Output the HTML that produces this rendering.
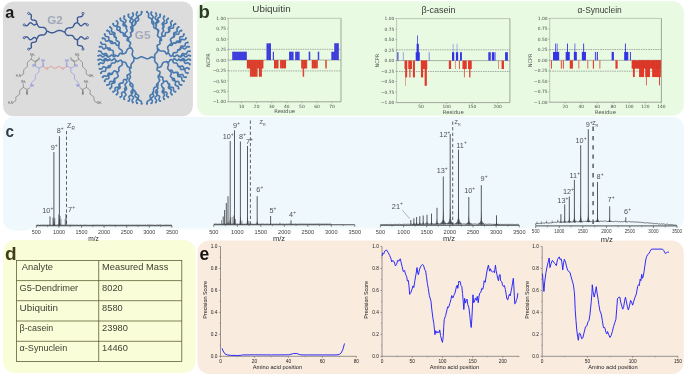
<!DOCTYPE html>
<html lang="en"><head><meta charset="utf-8"><title>Figure</title>
<style>
html,body{margin:0;padding:0;background:#fff;}
body{width:685px;height:376px;overflow:hidden;}
svg{display:block;font-family:"Liberation Sans", sans-serif;}
</style></head><body>
<svg width="685" height="376" viewBox="0 0 685 376">
<rect x="3" y="1.5" width="189.9" height="114.8" rx="10.5" fill="#dcdcdc"/>
<rect x="197.1" y="1.2" width="486.7" height="114.5" rx="11" fill="#e8fae2"/>
<rect x="2.9" y="117" width="680.9" height="113.4" rx="11.3" fill="#eff8fc"/>
<rect x="3" y="239.9" width="192.7" height="133.2" rx="12" fill="#f9fdd8"/>
<rect x="197.4" y="240.4" width="486.4" height="133.5" rx="12" fill="#faebdf"/>
<text x="5.3" y="17.55" font-size="16.2" font-weight="bold" fill="#1a1a1a">a</text>
<text x="198.4" y="18" font-size="18.5" font-weight="bold" fill="#2d3a24">b</text>
<text x="5.4" y="136.5" font-size="17.3" font-weight="bold" fill="#343c42" textLength="8.5" lengthAdjust="spacingAndGlyphs">c</text>
<text x="4.9" y="260.2" font-size="19" font-weight="bold" fill="#3e3e18">d</text>
<text x="199.5" y="259.7" font-size="17.5" font-weight="bold" fill="#151210">e</text>
<path d="M47 31.2 L47.73 31.38 L48.45 31.67 L49.17 32 L49.89 32.31 L50.61 32.57 L51.34 32.74 L52.07 32.81 L52.81 32.75 L53.55 32.59 L54.3 32.32 L55.05 31.98 L55.8 31.6 L56.55 31.22 L57.3 30.88 L58.05 30.61 L58.79 30.45 L59.53 30.39 L60.26 30.46 L60.99 30.63 L61.71 30.89 L62.43 31.2 L63.15 31.53 L63.87 31.82 L64.6 32 M47 31.2 L46.66 30.77 L46.38 30.26 L46.12 29.72 L45.85 29.2 L45.55 28.71 L45.2 28.29 L44.8 27.95 L44.32 27.7 L43.78 27.53 L43.19 27.44 L42.56 27.41 L41.9 27.4 L41.24 27.39 L40.61 27.36 L40.02 27.27 L39.48 27.1 L39 26.85 L38.6 26.51 L38.25 26.09 L37.95 25.6 L37.68 25.08 L37.42 24.54 L37.14 24.03 L36.8 23.6 M47 31.2 L46.66 31.63 L46.38 32.14 L46.12 32.68 L45.85 33.2 L45.55 33.69 L45.2 34.11 L44.8 34.45 L44.32 34.7 L43.78 34.87 L43.19 34.96 L42.56 34.99 L41.9 35 L41.24 35.01 L40.61 35.04 L40.02 35.13 L39.48 35.3 L39 35.55 L38.6 35.89 L38.25 36.31 L37.95 36.8 L37.68 37.32 L37.42 37.86 L37.14 38.37 L36.8 38.8 M36.8 23.6 L36.62 23.05 L36.54 22.41 L36.44 21.79 L36.26 21.24 L35.93 20.8 L35.45 20.49 L34.81 20.3 L34.07 20.2 L33.29 20.12 L32.57 20 L31.97 19.79 L31.53 19.44 L31.28 18.94 L31.2 18.3 L31.24 17.57 L31.33 16.8 L31.39 16.05 L31.35 15.39 L31.15 14.85 L30.79 14.44 L30.29 14.14 L29.7 13.91 L29.1 13.7 L28.6 13.4 M36.8 23.6 L36.3 23.86 L35.81 24.25 L35.31 24.62 L34.81 24.87 L34.29 24.95 L33.74 24.81 L33.18 24.49 L32.6 24.03 L32.02 23.54 L31.44 23.1 L30.88 22.82 L30.35 22.76 L29.83 22.93 L29.34 23.32 L28.87 23.86 L28.4 24.47 L27.93 25.03 L27.44 25.46 L26.94 25.7 L26.41 25.74 L25.86 25.59 L25.31 25.33 L24.75 25.05 L24.2 24.9 M36.8 38.8 L36.29 38.55 L35.8 38.17 L35.3 37.81 L34.79 37.56 L34.27 37.49 L33.73 37.64 L33.17 37.97 L32.6 38.43 L32.03 38.94 L31.46 39.38 L30.9 39.67 L30.37 39.74 L29.85 39.58 L29.36 39.2 L28.88 38.66 L28.4 38.07 L27.92 37.51 L27.43 37.09 L26.92 36.85 L26.39 36.83 L25.85 36.98 L25.3 37.25 L24.74 37.54 L24.2 37.7 M36.8 38.8 L36.62 39.36 L36.54 40 L36.45 40.63 L36.27 41.19 L35.94 41.64 L35.45 41.95 L34.81 42.15 L34.07 42.27 L33.29 42.36 L32.56 42.49 L31.96 42.71 L31.52 43.07 L31.27 43.58 L31.2 44.22 L31.24 44.96 L31.33 45.73 L31.39 46.48 L31.35 47.15 L31.16 47.7 L30.8 48.12 L30.3 48.43 L29.71 48.67 L29.1 48.9 L28.6 49.2 M64.6 32 L64.94 31.54 L65.21 31.01 L65.46 30.44 L65.72 29.89 L66.01 29.38 L66.35 28.93 L66.75 28.55 L67.23 28.27 L67.78 28.06 L68.38 27.93 L69.03 27.85 L69.7 27.8 L70.37 27.75 L71.02 27.67 L71.62 27.54 L72.17 27.33 L72.65 27.05 L73.05 26.67 L73.39 26.22 L73.68 25.71 L73.94 25.16 L74.19 24.59 L74.46 24.06 L74.8 23.6 M64.6 32 L64.95 32.4 L65.24 32.88 L65.51 33.4 L65.79 33.9 L66.1 34.36 L66.45 34.75 L66.86 35.06 L67.33 35.27 L67.86 35.4 L68.44 35.45 L69.06 35.44 L69.7 35.4 L70.34 35.36 L70.96 35.35 L71.54 35.4 L72.07 35.53 L72.54 35.74 L72.95 36.05 L73.3 36.44 L73.61 36.9 L73.89 37.4 L74.16 37.92 L74.45 38.4 L74.8 38.8 M74.8 23.6 L75.3 23.3 L75.9 23.09 L76.49 22.86 L76.99 22.56 L77.35 22.15 L77.55 21.61 L77.59 20.95 L77.53 20.2 L77.44 19.43 L77.4 18.7 L77.48 18.06 L77.73 17.56 L78.17 17.21 L78.77 17 L79.49 16.88 L80.27 16.8 L81.01 16.7 L81.65 16.51 L82.13 16.2 L82.46 15.76 L82.64 15.21 L82.74 14.59 L82.82 13.95 L83 13.4 M74.8 23.6 L75.35 23.45 L75.91 23.17 L76.46 22.91 L77.01 22.76 L77.54 22.8 L78.04 23.04 L78.53 23.47 L79 24.03 L79.47 24.64 L79.94 25.18 L80.43 25.57 L80.95 25.74 L81.48 25.68 L82.04 25.4 L82.62 24.96 L83.2 24.47 L83.78 24.01 L84.34 23.69 L84.89 23.55 L85.41 23.63 L85.91 23.88 L86.41 24.25 L86.9 24.64 L87.4 24.9 M74.8 38.8 L75.34 38.96 L75.9 39.25 L76.45 39.52 L76.99 39.67 L77.52 39.65 L78.03 39.41 L78.52 38.99 L79 38.43 L79.48 37.84 L79.96 37.3 L80.45 36.92 L80.97 36.76 L81.5 36.83 L82.06 37.12 L82.63 37.56 L83.2 38.07 L83.77 38.53 L84.33 38.86 L84.87 39.01 L85.39 38.94 L85.9 38.69 L86.4 38.33 L86.89 37.95 L87.4 37.7 M74.8 38.8 L75.3 39.1 L75.91 39.33 L76.5 39.57 L77 39.88 L77.36 40.3 L77.55 40.85 L77.59 41.52 L77.53 42.27 L77.44 43.04 L77.4 43.78 L77.47 44.42 L77.72 44.93 L78.16 45.29 L78.76 45.51 L79.49 45.64 L80.27 45.73 L81.01 45.85 L81.65 46.05 L82.14 46.36 L82.47 46.81 L82.65 47.37 L82.74 48 L82.82 48.64 L83 49.2" fill="none" stroke="#3c5a96" stroke-width="1.4" stroke-linecap="round" stroke-linejoin="round"/>
<circle cx="28.6" cy="13.4" r="1.05" fill="#dcdcdc" stroke="#3c5a96" stroke-width="0.85"/>
<circle cx="24.2" cy="24.9" r="1.05" fill="#dcdcdc" stroke="#3c5a96" stroke-width="0.85"/>
<circle cx="24.2" cy="37.7" r="1.05" fill="#dcdcdc" stroke="#3c5a96" stroke-width="0.85"/>
<circle cx="28.6" cy="49.2" r="1.05" fill="#dcdcdc" stroke="#3c5a96" stroke-width="0.85"/>
<circle cx="83" cy="13.4" r="1.05" fill="#dcdcdc" stroke="#3c5a96" stroke-width="0.85"/>
<circle cx="87.4" cy="24.9" r="1.05" fill="#dcdcdc" stroke="#3c5a96" stroke-width="0.85"/>
<circle cx="87.4" cy="37.7" r="1.05" fill="#dcdcdc" stroke="#3c5a96" stroke-width="0.85"/>
<circle cx="83" cy="49.2" r="1.05" fill="#dcdcdc" stroke="#3c5a96" stroke-width="0.85"/>
<text x="47.2" y="24.2" font-size="11.5" font-weight="bold" fill="#9ea8ba" textLength="15.6" lengthAdjust="spacingAndGlyphs">G2</text>
<path d="M32.11 55.99 L31 59.18 L27.33 62.37 L27.33 66.67 L23.66 69.86 L23.66 74.01 L20.47 75.92 M77.73 55.99 L78.84 59.18 L82.51 62.37 L82.51 66.67 L86.18 69.86 L86.18 74.01 L89.37 75.92 M31 59.18 L35.3 61.89 L38.65 59.97 M78.84 59.18 L74.54 61.89 L71.19 59.97 M34.98 61.25 L38.33 59.34 M74.86 61.25 L71.51 59.34 M35.3 61.89 L34.98 65.56 M74.54 61.89 L74.86 65.56 M27.33 89.48 L27.33 94.26 M82.51 89.48 L82.51 94.26 M26.69 89.8 L26.69 94.26 M83.15 89.8 L83.15 94.26 M30.2 87.41 L27.33 89.48 L23.34 87.41 L23.34 83.58 M79.64 87.41 L82.51 89.48 L86.5 87.41 L86.5 83.58 M23.34 87.41 L19.67 90.28 L19.67 94.26 L15.85 96.98 L15.85 100.64 L12.5 103.04 M86.5 87.41 L90.17 90.28 L90.17 94.26 L94 96.98 L94 100.64 L97.34 103.04" fill="none" stroke="#4a4a4a" stroke-width="0.45" stroke-linejoin="round"/>
<path d="M35.78 66.67 L38.97 67.95 L42.8 66.35 L42.8 62.53 M74.06 66.67 L70.87 67.95 L67.04 66.35 L67.04 62.53 M43.44 66.35 L43.44 62.53 M66.4 66.35 L66.4 62.53 M38.97 67.95 L38.97 71.94 L35.3 75.13 L35.3 79.11 L31.63 82.3 L31.63 85.49 M70.87 67.95 L70.87 71.94 L74.54 75.13 L74.54 79.11 L78.21 82.3 L78.21 85.49" fill="none" stroke="#6c74d8" stroke-width="0.45" stroke-linejoin="round"/>
<path d="M42.8 66.35 L46.15 68.43 M67.04 66.35 L63.69 68.43 M47.74 68.43 L50.77 66.35 L54.92 68.43 M62.1 68.43 L59.07 66.35 L54.92 68.43" fill="none" stroke="#e0584a" stroke-width="0.45" stroke-linejoin="round"/>
<text x="32.43" y="55.51" font-size="2.6" fill="#555" text-anchor="middle">NH₂</text>
<text x="18.24" y="76.72" font-size="2.6" fill="#555" text-anchor="middle">H₂N</text>
<text x="34.19" y="67.15" font-size="2.6" fill="#6c74d8" text-anchor="middle">NH</text>
<text x="43.12" y="62.21" font-size="2.6" fill="#6c74d8" text-anchor="middle">NH</text>
<text x="46.95" y="69.54" font-size="2.6" fill="#e0584a" text-anchor="middle">O</text>
<text x="39.13" y="59.81" font-size="2.6" fill="#555" text-anchor="middle">O</text>
<text x="31.79" y="87.41" font-size="2.6" fill="#6c74d8" text-anchor="middle">NH</text>
<text x="23.66" y="83.1" font-size="2.6" fill="#555" text-anchor="middle">NH₂</text>
<text x="27.01" y="95.38" font-size="2.6" fill="#555" text-anchor="middle">O</text>
<text x="10.26" y="103.99" font-size="2.6" fill="#555" text-anchor="middle">H₂N</text>
<text x="77.41" y="55.51" font-size="2.6" fill="#555" text-anchor="middle">NH₂</text>
<text x="91.6" y="76.72" font-size="2.6" fill="#555" text-anchor="middle">NH₂</text>
<text x="75.65" y="67.15" font-size="2.6" fill="#6c74d8" text-anchor="middle">NH</text>
<text x="66.72" y="62.21" font-size="2.6" fill="#6c74d8" text-anchor="middle">NH</text>
<text x="62.89" y="69.54" font-size="2.6" fill="#e0584a" text-anchor="middle">O</text>
<text x="70.71" y="59.81" font-size="2.6" fill="#555" text-anchor="middle">O</text>
<text x="78.05" y="87.41" font-size="2.6" fill="#6c74d8" text-anchor="middle">NH</text>
<text x="86.18" y="83.1" font-size="2.6" fill="#555" text-anchor="middle">NH₂</text>
<text x="82.83" y="95.38" font-size="2.6" fill="#555" text-anchor="middle">O</text>
<text x="99.58" y="103.99" font-size="2.6" fill="#555" text-anchor="middle">NH₂</text>
<path d="M144.3 57.8 L145.17 58.1 L146.03 58.52 L146.9 58.8 L147.77 58.79 L148.66 58.47 L149.55 57.95 L150.44 57.43 L151.33 57.11 L152.2 57.1 L153.07 57.38 L153.93 57.8 L154.8 58.1 M154.8 58.1 L154.78 57.18 L154.65 56.24 L154.66 55.33 L154.91 54.49 L155.44 53.71 L156.14 52.99 L156.84 52.26 L157.36 51.48 L157.62 50.64 L157.62 49.73 L157.5 48.79 L157.48 47.87 M157.48 47.87 L158.05 48.65 L158.55 49.53 L159.14 50.28 L159.91 50.75 L160.88 50.94 L161.98 50.95 L163.08 50.95 L164.05 51.14 L164.82 51.62 L165.41 52.36 L165.91 53.25 L166.48 54.02 M166.48 54.02 L167.07 53.83 L167.69 53.51 L168.27 53.35 L168.78 53.52 L169.21 54.02 L169.59 54.73 L169.97 55.45 L170.4 55.95 L170.91 56.12 L171.49 55.96 L172.11 55.64 L172.7 55.45 M172.7 55.45 L173.16 55.84 L173.59 56.37 L174.05 56.73 L174.56 56.77 L175.13 56.47 L175.74 55.94 L176.34 55.42 L176.91 55.11 L177.42 55.15 L177.88 55.52 L178.32 56.04 L178.77 56.44 M178.77 56.44 L179.36 56.64 L179.96 56.92 L180.54 57 L181.1 56.76 L181.64 56.25 L182.18 55.66 L182.73 55.24 L183.3 55.17 L183.9 55.5 L184.51 56.07 L185.13 56.65 L185.72 56.97 L186.29 56.91 L186.84 56.48 L187.38 55.89 L187.93 55.38 L188.49 55.15 L189.07 55.23 L189.66 55.5 L190.25 55.71 M178.77 56.44 L179.43 56.4 L180.11 56.42 L180.72 56.26 L181.19 55.82 L181.54 55.13 L181.85 54.37 L182.24 53.76 L182.78 53.47 L183.49 53.54 L184.3 53.83 L185.11 54.13 L185.82 54.19 L186.36 53.91 L186.75 53.3 L187.06 52.53 L187.42 51.84 L187.88 51.4 L188.49 51.25 L189.17 51.27 L189.83 51.23 M172.7 55.45 L172.9 54.76 L172.99 53.99 L173.21 53.32 L173.67 52.88 L174.39 52.67 L175.28 52.6 L176.16 52.54 L176.88 52.33 L177.34 51.89 L177.56 51.22 L177.66 50.45 L177.85 49.76 M177.85 49.76 L178.47 49.85 L179.1 50 L179.69 49.97 L180.19 49.63 L180.63 49.02 L181.04 48.34 L181.5 47.82 L182.05 47.64 L182.7 47.84 L183.41 48.29 L184.12 48.73 L184.77 48.93 L185.32 48.76 L185.78 48.23 L186.19 47.55 L186.62 46.95 L187.13 46.61 L187.72 46.57 L188.35 46.73 L188.97 46.82 M177.85 49.76 L178.49 49.59 L179.16 49.48 L179.72 49.21 L180.1 48.69 L180.31 47.94 L180.47 47.14 L180.73 46.46 L181.2 46.07 L181.91 46 L182.77 46.13 L183.62 46.26 L184.33 46.19 L184.8 45.8 L185.06 45.13 L185.22 44.32 L185.43 43.57 L185.81 43.05 L186.37 42.78 L187.05 42.67 L187.68 42.5 M166.48 54.02 L167.05 53.36 L167.73 52.73 L168.27 52.06 L168.49 51.27 L168.39 50.38 L168.07 49.41 L167.75 48.44 L167.65 47.54 L167.87 46.76 L168.4 46.08 L169.09 45.46 L169.66 44.79 M169.66 44.79 L170.23 44.98 L170.83 45.3 L171.39 45.46 L171.88 45.3 L172.29 44.8 L172.65 44.09 L173.01 43.37 L173.42 42.87 L173.91 42.72 L174.47 42.88 L175.07 43.2 L175.65 43.39 M175.65 43.39 L176.06 42.92 L176.44 42.38 L176.9 42.03 L177.5 41.95 L178.23 42.13 L178.99 42.37 L179.68 42.47 L180.21 42.24 L180.57 41.67 L180.81 40.86 L181.06 40.06 L181.42 39.48 L181.95 39.26 L182.64 39.36 L183.4 39.6 L184.12 39.77 L184.73 39.7 L185.19 39.34 L185.57 38.81 L185.98 38.34 M175.65 43.39 L175.88 42.77 L176.06 42.11 L176.38 41.58 L176.94 41.26 L177.7 41.13 L178.53 41.05 L179.22 40.86 L179.66 40.43 L179.8 39.74 L179.76 38.87 L179.72 38.01 L179.87 37.32 L180.3 36.88 L181 36.69 L181.82 36.62 L182.58 36.48 L183.14 36.17 L183.47 35.64 L183.65 34.98 L183.88 34.36 M169.66 44.79 L170.17 44.3 L170.81 43.85 L171.29 43.34 L171.47 42.72 L171.31 41.99 L170.95 41.18 L170.59 40.37 L170.43 39.64 L170.61 39.02 L171.09 38.51 L171.73 38.06 L172.24 37.57 M172.24 37.57 L172.85 37.41 L173.5 37.31 L174.03 37.06 L174.36 36.55 L174.53 35.83 L174.66 35.04 L174.88 34.38 L175.32 34.01 L175.99 33.95 L176.82 34.09 L177.65 34.23 L178.33 34.17 L178.77 33.79 L178.99 33.14 L179.11 32.35 L179.28 31.62 L179.62 31.11 L180.15 30.86 L180.8 30.76 L181.4 30.61 M172.24 37.57 L172.77 37.17 L173.35 36.81 L173.77 36.35 L173.91 35.72 L173.83 34.95 L173.67 34.14 L173.65 33.42 L173.94 32.88 L174.56 32.55 L175.41 32.34 L176.25 32.13 L176.87 31.8 L177.16 31.26 L177.15 30.54 L176.99 29.73 L176.9 28.96 L177.04 28.33 L177.46 27.87 L178.04 27.51 L178.57 27.11 M157.48 47.87 L157.36 47.23 L157.11 46.54 L157.02 45.91 L157.24 45.38 L157.8 44.96 L158.56 44.61 L159.32 44.26 L159.88 43.84 L160.1 43.31 L160.01 42.67 L159.77 41.99 L159.64 41.34 M159.64 41.34 L160.18 41.07 L160.82 40.86 L161.33 40.57 L161.55 40.11 L161.48 39.47 L161.21 38.72 L160.95 37.97 L160.87 37.33 L161.09 36.87 L161.6 36.58 L162.24 36.38 L162.78 36.1 M162.78 36.1 L163.38 36.06 L164.06 36.13 L164.64 36.06 L165.03 35.73 L165.22 35.11 L165.28 34.31 L165.34 33.51 L165.52 32.9 L165.92 32.56 L166.5 32.49 L167.18 32.56 L167.78 32.52 M167.78 32.52 L168.34 32.25 L168.96 32.03 L169.43 31.68 L169.66 31.11 L169.68 30.37 L169.65 29.57 L169.74 28.88 L170.1 28.43 L170.75 28.24 L171.59 28.22 L172.43 28.19 L173.08 28 L173.44 27.55 L173.53 26.86 L173.5 26.06 L173.53 25.32 L173.76 24.76 L174.23 24.4 L174.84 24.18 L175.4 23.91 M167.78 32.52 L168.22 32.03 L168.72 31.56 L169.04 31.03 L169.06 30.38 L168.82 29.65 L168.51 28.89 L168.35 28.18 L168.53 27.59 L169.08 27.14 L169.86 26.78 L170.65 26.41 L171.19 25.96 L171.37 25.38 L171.22 24.67 L170.9 23.91 L170.67 23.17 L170.69 22.53 L171.01 21.99 L171.51 21.53 L171.95 21.03 M162.78 36.1 L162.43 35.48 L161.95 34.86 L161.64 34.24 L161.65 33.59 L162.01 32.94 L162.6 32.27 L163.18 31.6 L163.54 30.94 L163.55 30.3 L163.24 29.68 L162.76 29.06 L162.41 28.44 M162.41 28.44 L162.91 28.06 L163.47 27.73 L163.87 27.29 L163.98 26.69 L163.87 25.96 L163.68 25.18 L163.63 24.49 L163.9 23.97 L164.5 23.66 L165.32 23.47 L166.14 23.29 L166.74 22.97 L167 22.46 L166.96 21.77 L166.77 20.99 L166.65 20.26 L166.77 19.66 L167.16 19.22 L167.72 18.88 L168.22 18.51 M162.41 28.44 L162.75 27.87 L163.15 27.31 L163.36 26.73 L163.25 26.09 L162.88 25.42 L162.42 24.73 L162.13 24.07 L162.19 23.46 L162.64 22.91 L163.34 22.4 L164.04 21.89 L164.49 21.34 L164.55 20.73 L164.26 20.07 L163.8 19.38 L163.43 18.7 L163.33 18.07 L163.53 17.48 L163.93 16.93 L164.27 16.36 M159.64 41.34 L159.83 40.58 L160.14 39.8 L160.3 39.04 L160.13 38.34 L159.61 37.71 L158.88 37.11 L158.15 36.51 L157.63 35.88 L157.46 35.18 L157.62 34.42 L157.93 33.64 L158.12 32.87 M158.12 32.87 L158.28 32.18 L158.57 31.46 L158.7 30.78 L158.51 30.17 L157.98 29.65 L157.24 29.17 L156.49 28.7 L155.96 28.17 L155.78 27.57 L155.91 26.89 L156.2 26.17 L156.36 25.48 M156.36 25.48 L156.32 24.85 L156.21 24.21 L156.29 23.63 L156.66 23.15 L157.3 22.76 L158.01 22.4 L158.57 21.98 L158.79 21.45 L158.63 20.79 L158.24 20.04 L157.85 19.3 L157.7 18.64 L157.92 18.1 L158.47 17.69 L159.18 17.32 L159.82 16.94 L160.2 16.46 L160.27 15.88 L160.17 15.23 L160.12 14.61 M156.36 25.48 L156.09 24.88 L155.75 24.28 L155.61 23.67 L155.78 23.05 L156.23 22.42 L156.75 21.79 L157.12 21.16 L157.12 20.55 L156.73 19.96 L156.09 19.37 L155.45 18.79 L155.07 18.19 L155.07 17.58 L155.43 16.95 L155.96 16.32 L156.41 15.69 L156.58 15.07 L156.44 14.47 L156.1 13.87 L155.83 13.27 M158.12 32.87 L158.01 32.03 L158.02 31.12 L157.89 30.29 L157.47 29.61 L156.74 29.11 L155.82 28.71 L154.9 28.32 L154.17 27.81 L153.75 27.14 L153.62 26.31 L153.62 25.4 L153.52 24.55 M153.52 24.55 L153.66 23.9 L153.86 23.24 L153.87 22.61 L153.57 22.03 L153 21.5 L152.34 20.99 L151.86 20.44 L151.72 19.84 L151.97 19.17 L152.47 18.45 L152.97 17.74 L153.22 17.07 L153.09 16.47 L152.6 15.92 L151.95 15.4 L151.38 14.88 L151.08 14.3 L151.09 13.67 L151.29 13.01 L151.42 12.36 M153.52 24.55 L152.97 24.03 L152.37 23.54 L151.94 22.96 L151.79 22.24 L151.88 21.39 L152.04 20.5 L152.06 19.68 L151.76 19.04 L151.11 18.57 L150.24 18.22 L149.36 17.86 L148.71 17.4 L148.41 16.75 L148.43 15.94 L148.59 15.05 L148.68 14.19 L148.53 13.47 L148.1 12.89 L147.5 12.4 L146.95 11.88 M154.8 58.1 L154.78 58.97 L154.66 59.87 L154.66 60.73 L154.92 61.53 L155.44 62.24 L156.14 62.91 L156.84 63.59 L157.36 64.3 L157.62 65.1 L157.62 65.96 L157.5 66.86 L157.48 67.73 M157.48 67.73 L158.41 67.48 L159.41 67.34 L160.32 67.06 L161.05 66.51 L161.58 65.67 L161.98 64.65 L162.38 63.63 L162.91 62.8 L163.64 62.25 L164.55 61.97 L165.55 61.83 L166.48 61.58 M166.48 61.58 L167.07 61.77 L167.69 62.09 L168.27 62.25 L168.78 62.08 L169.21 61.58 L169.59 60.87 L169.97 60.15 L170.4 59.65 L170.91 59.48 L171.49 59.64 L172.11 59.96 L172.7 60.15 M172.7 60.15 L173.16 59.76 L173.59 59.23 L174.05 58.87 L174.56 58.83 L175.13 59.13 L175.74 59.66 L176.34 60.18 L176.91 60.49 L177.42 60.45 L177.88 60.08 L178.32 59.56 L178.77 59.16 M178.77 59.16 L179.33 59.44 L179.89 59.79 L180.45 59.94 L181.04 59.78 L181.64 59.35 L182.25 58.83 L182.85 58.48 L183.43 58.48 L183.98 58.88 L184.51 59.53 L185.05 60.18 L185.6 60.57 L186.18 60.58 L186.77 60.23 L187.38 59.71 L187.99 59.27 L188.57 59.11 L189.14 59.26 L189.69 59.61 L190.25 59.89 M178.77 59.16 L179.22 59.65 L179.64 60.19 L180.14 60.55 L180.78 60.63 L181.54 60.47 L182.33 60.22 L183.04 60.13 L183.61 60.36 L184.01 60.95 L184.3 61.77 L184.59 62.58 L184.99 63.17 L185.56 63.4 L186.28 63.31 L187.06 63.07 L187.82 62.9 L188.46 62.98 L188.96 63.35 L189.38 63.89 L189.83 64.37 M172.7 60.15 L172.9 60.84 L172.99 61.61 L173.21 62.28 L173.67 62.72 L174.39 62.93 L175.28 63 L176.16 63.06 L176.88 63.27 L177.34 63.71 L177.56 64.38 L177.66 65.15 L177.85 65.84 M177.85 65.84 L178.34 66.22 L178.82 66.67 L179.35 66.93 L179.95 66.89 L180.63 66.58 L181.33 66.19 L181.98 65.96 L182.55 66.08 L183.01 66.57 L183.41 67.31 L183.81 68.05 L184.27 68.55 L184.84 68.67 L185.49 68.44 L186.19 68.05 L186.87 67.74 L187.47 67.69 L188 67.95 L188.48 68.4 L188.97 68.78 M177.85 65.84 L178.49 66.01 L179.16 66.12 L179.72 66.39 L180.1 66.91 L180.31 67.66 L180.47 68.46 L180.73 69.14 L181.2 69.53 L181.91 69.6 L182.77 69.47 L183.62 69.34 L184.33 69.41 L184.8 69.8 L185.06 70.47 L185.22 71.28 L185.43 72.03 L185.81 72.55 L186.37 72.82 L187.05 72.93 L187.68 73.1 M166.48 61.58 L167.05 62.24 L167.73 62.87 L168.27 63.54 L168.49 64.33 L168.39 65.22 L168.07 66.19 L167.75 67.16 L167.65 68.06 L167.87 68.84 L168.4 69.52 L169.09 70.14 L169.66 70.81 M169.66 70.81 L170.23 70.62 L170.83 70.3 L171.39 70.14 L171.88 70.3 L172.29 70.8 L172.65 71.51 L173.01 72.23 L173.42 72.73 L173.91 72.88 L174.47 72.72 L175.07 72.4 L175.65 72.21 M175.65 72.21 L176.27 72.25 L176.92 72.22 L177.49 72.36 L177.92 72.8 L178.23 73.47 L178.5 74.23 L178.85 74.83 L179.35 75.11 L180.03 75.04 L180.81 74.74 L181.6 74.44 L182.27 74.37 L182.78 74.65 L183.12 75.25 L183.4 76 L183.71 76.68 L184.14 77.11 L184.7 77.25 L185.36 77.23 L185.98 77.26 M175.65 72.21 L176.24 72.5 L176.88 72.74 L177.38 73.11 L177.64 73.7 L177.7 74.47 L177.71 75.29 L177.83 76.01 L178.22 76.48 L178.9 76.69 L179.76 76.73 L180.63 76.76 L181.31 76.97 L181.69 77.44 L181.82 78.16 L181.82 78.98 L181.88 79.75 L182.15 80.34 L182.65 80.71 L183.29 80.95 L183.88 81.24 M169.66 70.81 L170.17 71.3 L170.81 71.75 L171.29 72.26 L171.47 72.88 L171.31 73.61 L170.95 74.42 L170.59 75.23 L170.43 75.96 L170.61 76.58 L171.09 77.09 L171.73 77.54 L172.24 78.03 M172.24 78.03 L172.85 78.19 L173.5 78.29 L174.03 78.54 L174.36 79.05 L174.53 79.77 L174.66 80.56 L174.88 81.22 L175.32 81.59 L175.99 81.65 L176.82 81.51 L177.65 81.37 L178.33 81.43 L178.77 81.81 L178.99 82.46 L179.11 83.25 L179.28 83.98 L179.62 84.49 L180.15 84.74 L180.8 84.84 L181.4 84.99 M172.24 78.03 L172.35 78.68 L172.4 79.36 L172.62 79.95 L173.1 80.37 L173.83 80.65 L174.62 80.88 L175.26 81.2 L175.61 81.71 L175.61 82.42 L175.41 83.26 L175.2 84.1 L175.2 84.81 L175.55 85.32 L176.2 85.64 L176.99 85.87 L177.71 86.15 L178.19 86.57 L178.41 87.16 L178.46 87.84 L178.57 88.49 M157.48 67.73 L157.36 68.37 L157.11 69.06 L157.02 69.69 L157.24 70.22 L157.8 70.64 L158.56 70.99 L159.32 71.34 L159.88 71.76 L160.1 72.29 L160.01 72.93 L159.77 73.61 L159.64 74.26 M159.64 74.26 L159.63 74.86 L159.51 75.52 L159.53 76.11 L159.82 76.52 L160.42 76.76 L161.21 76.88 L162 77 L162.6 77.23 L162.9 77.65 L162.91 78.23 L162.79 78.9 L162.78 79.5 M162.78 79.5 L163.01 80.06 L163.17 80.72 L163.42 81.25 L163.86 81.51 L164.5 81.49 L165.28 81.29 L166.05 81.09 L166.7 81.07 L167.14 81.33 L167.39 81.86 L167.55 82.52 L167.78 83.08 M167.78 83.08 L168.34 83.35 L168.96 83.57 L169.43 83.92 L169.66 84.49 L169.68 85.23 L169.65 86.03 L169.74 86.72 L170.1 87.17 L170.75 87.36 L171.59 87.38 L172.43 87.41 L173.08 87.6 L173.44 88.05 L173.53 88.74 L173.5 89.54 L173.53 90.28 L173.76 90.84 L174.23 91.2 L174.84 91.42 L175.4 91.69 M167.78 83.08 L168.22 83.57 L168.72 84.04 L169.04 84.57 L169.06 85.22 L168.82 85.95 L168.51 86.71 L168.35 87.42 L168.53 88.01 L169.08 88.46 L169.86 88.82 L170.65 89.19 L171.19 89.64 L171.37 90.22 L171.22 90.93 L170.9 91.69 L170.67 92.43 L170.69 93.07 L171.01 93.61 L171.51 94.07 L171.95 94.57 M162.78 79.5 L163.06 80.15 L163.48 80.81 L163.74 81.46 L163.66 82.1 L163.24 82.72 L162.6 83.33 L161.95 83.94 L161.53 84.56 L161.45 85.2 L161.71 85.85 L162.13 86.51 L162.41 87.16 M162.41 87.16 L162.91 87.54 L163.47 87.87 L163.87 88.31 L163.98 88.91 L163.87 89.64 L163.68 90.42 L163.63 91.11 L163.9 91.63 L164.5 91.94 L165.32 92.13 L166.14 92.31 L166.74 92.63 L167 93.14 L166.96 93.83 L166.77 94.61 L166.65 95.34 L166.77 95.94 L167.16 96.38 L167.72 96.72 L168.22 97.09 M162.41 87.16 L162.75 87.73 L163.15 88.29 L163.36 88.87 L163.25 89.51 L162.88 90.18 L162.42 90.87 L162.13 91.53 L162.19 92.14 L162.64 92.69 L163.34 93.2 L164.04 93.71 L164.49 94.26 L164.55 94.87 L164.26 95.53 L163.8 96.22 L163.43 96.9 L163.33 97.53 L163.53 98.12 L163.93 98.67 L164.27 99.24 M159.64 74.26 L159.2 74.9 L158.64 75.53 L158.23 76.19 L158.14 76.9 L158.4 77.68 L158.88 78.49 L159.36 79.31 L159.62 80.08 L159.53 80.8 L159.13 81.45 L158.56 82.08 L158.12 82.73 M158.12 82.73 L157.66 83.27 L157.08 83.78 L156.65 84.33 L156.55 84.96 L156.79 85.67 L157.24 86.43 L157.69 87.18 L157.92 87.89 L157.82 88.52 L157.4 89.07 L156.81 89.58 L156.36 90.12 M156.36 90.12 L156.78 90.59 L157.26 91.03 L157.56 91.53 L157.56 92.14 L157.3 92.84 L156.96 93.57 L156.79 94.24 L156.94 94.79 L157.47 95.22 L158.24 95.56 L159.01 95.9 L159.54 96.33 L159.7 96.88 L159.52 97.55 L159.18 98.28 L158.92 98.97 L158.92 99.58 L159.22 100.09 L159.71 100.53 L160.12 100.99 M156.36 90.12 L156.09 90.72 L155.75 91.32 L155.61 91.93 L155.78 92.55 L156.23 93.18 L156.75 93.81 L157.12 94.44 L157.12 95.05 L156.73 95.64 L156.09 96.23 L155.45 96.81 L155.07 97.41 L155.07 98.02 L155.43 98.65 L155.96 99.28 L156.41 99.91 L156.58 100.53 L156.44 101.13 L156.1 101.73 L155.83 102.33 M158.12 82.73 L158.01 83.57 L158.02 84.48 L157.89 85.31 L157.47 85.99 L156.74 86.49 L155.82 86.89 L154.9 87.28 L154.17 87.79 L153.75 88.46 L153.62 89.29 L153.62 90.2 L153.52 91.05 M153.52 91.05 L153.17 91.61 L152.76 92.17 L152.54 92.76 L152.63 93.41 L153 94.1 L153.44 94.8 L153.72 95.47 L153.64 96.09 L153.18 96.64 L152.47 97.15 L151.76 97.65 L151.3 98.2 L151.23 98.82 L151.51 99.49 L151.95 100.2 L152.31 100.89 L152.4 101.53 L152.18 102.12 L151.77 102.68 L151.42 103.24 M153.52 91.05 L153.41 91.79 L153.36 92.57 L153.13 93.26 L152.63 93.8 L151.88 94.21 L151.06 94.59 L150.38 95.05 L150.03 95.67 L150.02 96.47 L150.24 97.38 L150.45 98.3 L150.44 99.1 L150.09 99.72 L149.41 100.18 L148.59 100.55 L147.84 100.97 L147.34 101.51 L147.11 102.2 L147.06 102.98 L146.95 103.72 M144.3 57.8 L143.43 57.5 L142.57 57.08 L141.7 56.8 L140.83 56.81 L139.94 57.13 L139.05 57.65 L138.16 58.17 L137.27 58.49 L136.4 58.5 L135.53 58.22 L134.67 57.8 L133.8 57.5 M133.8 57.5 L133.33 56.77 L132.76 56.06 L132.32 55.32 L132.13 54.51 L132.21 53.62 L132.46 52.69 L132.71 51.75 L132.79 50.86 L132.6 50.05 L132.16 49.31 L131.59 48.6 L131.12 47.87 M131.12 47.87 L130.19 48.12 L129.19 48.26 L128.28 48.54 L127.55 49.09 L127.02 49.93 L126.62 50.95 L126.22 51.97 L125.69 52.8 L124.96 53.35 L124.05 53.63 L123.05 53.77 L122.12 54.02 M122.12 54.02 L121.53 53.83 L120.91 53.51 L120.33 53.35 L119.82 53.52 L119.39 54.02 L119.01 54.73 L118.63 55.45 L118.2 55.95 L117.69 56.12 L117.11 55.96 L116.49 55.64 L115.9 55.45 M115.9 55.45 L115.44 55.84 L115.01 56.37 L114.55 56.73 L114.04 56.77 L113.47 56.47 L112.86 55.94 L112.26 55.42 L111.69 55.11 L111.18 55.15 L110.72 55.52 L110.28 56.04 L109.83 56.44 M109.83 56.44 L109.24 56.64 L108.64 56.92 L108.06 57 L107.5 56.76 L106.96 56.25 L106.42 55.66 L105.87 55.24 L105.3 55.17 L104.7 55.5 L104.09 56.07 L103.47 56.65 L102.88 56.97 L102.31 56.91 L101.76 56.48 L101.22 55.89 L100.67 55.38 L100.11 55.15 L99.53 55.23 L98.94 55.5 L98.35 55.71 M109.83 56.44 L109.17 56.4 L108.49 56.42 L107.88 56.26 L107.41 55.82 L107.06 55.13 L106.75 54.37 L106.36 53.76 L105.82 53.47 L105.11 53.54 L104.3 53.83 L103.49 54.13 L102.78 54.19 L102.24 53.91 L101.85 53.3 L101.54 52.53 L101.18 51.84 L100.72 51.4 L100.11 51.25 L99.43 51.27 L98.77 51.23 M115.9 55.45 L115.23 55.19 L114.47 55.01 L113.83 54.73 L113.43 54.23 L113.3 53.49 L113.32 52.6 L113.35 51.72 L113.21 50.98 L112.82 50.48 L112.18 50.19 L111.42 50.02 L110.75 49.76 M110.75 49.76 L110.13 49.85 L109.5 50 L108.91 49.97 L108.41 49.63 L107.97 49.02 L107.56 48.34 L107.1 47.82 L106.55 47.64 L105.9 47.84 L105.19 48.29 L104.48 48.73 L103.83 48.93 L103.28 48.76 L102.82 48.23 L102.41 47.55 L101.98 46.95 L101.47 46.61 L100.88 46.57 L100.25 46.73 L99.63 46.82 M110.75 49.76 L110.4 49.2 L110.1 48.59 L109.67 48.13 L109.06 47.93 L108.29 47.94 L107.47 48.03 L106.75 47.98 L106.24 47.64 L105.96 46.99 L105.83 46.13 L105.71 45.27 L105.43 44.62 L104.92 44.28 L104.2 44.23 L103.38 44.32 L102.6 44.34 L101.99 44.13 L101.57 43.68 L101.26 43.06 L100.92 42.5 M122.12 54.02 L122.16 53.15 L122.31 52.23 L122.32 51.37 L122.01 50.62 L121.38 49.98 L120.53 49.41 L119.69 48.84 L119.05 48.2 L118.74 47.44 L118.75 46.58 L118.91 45.66 L118.94 44.79 M118.94 44.79 L118.37 44.98 L117.77 45.3 L117.21 45.46 L116.72 45.3 L116.31 44.8 L115.95 44.09 L115.59 43.37 L115.18 42.87 L114.69 42.72 L114.13 42.88 L113.53 43.2 L112.95 43.39 M112.95 43.39 L112.33 43.35 L111.68 43.38 L111.11 43.24 L110.68 42.8 L110.37 42.13 L110.1 41.37 L109.75 40.77 L109.25 40.49 L108.57 40.56 L107.79 40.86 L107 41.16 L106.33 41.23 L105.82 40.95 L105.48 40.35 L105.2 39.6 L104.89 38.92 L104.46 38.49 L103.9 38.35 L103.24 38.37 L102.62 38.34 M112.95 43.39 L112.72 42.77 L112.54 42.11 L112.22 41.58 L111.66 41.26 L110.9 41.13 L110.07 41.05 L109.38 40.86 L108.94 40.43 L108.8 39.74 L108.84 38.87 L108.88 38.01 L108.73 37.32 L108.3 36.88 L107.6 36.69 L106.78 36.62 L106.02 36.48 L105.46 36.17 L105.13 35.64 L104.95 34.98 L104.72 34.36 M118.94 44.79 L119.03 44.08 L119.23 43.33 L119.28 42.63 L119.03 42.04 L118.44 41.57 L117.65 41.18 L116.85 40.78 L116.27 40.32 L116.01 39.73 L116.07 39.03 L116.27 38.28 L116.36 37.57 M116.36 37.57 L115.75 37.41 L115.1 37.31 L114.57 37.06 L114.24 36.55 L114.07 35.83 L113.94 35.04 L113.72 34.38 L113.28 34.01 L112.61 33.95 L111.78 34.09 L110.95 34.23 L110.27 34.17 L109.83 33.79 L109.61 33.14 L109.49 32.35 L109.32 31.62 L108.98 31.11 L108.45 30.86 L107.8 30.76 L107.2 30.61 M116.36 37.57 L115.83 37.17 L115.25 36.81 L114.83 36.35 L114.69 35.72 L114.77 34.95 L114.93 34.14 L114.95 33.42 L114.66 32.88 L114.04 32.55 L113.19 32.34 L112.35 32.13 L111.73 31.8 L111.44 31.26 L111.45 30.54 L111.61 29.73 L111.7 28.96 L111.56 28.33 L111.14 27.87 L110.56 27.51 L110.03 27.11 M131.12 47.87 L130.64 47.43 L130.03 47.02 L129.58 46.57 L129.44 46.01 L129.64 45.34 L130.04 44.61 L130.44 43.87 L130.63 43.2 L130.49 42.64 L130.04 42.19 L129.44 41.79 L128.96 41.34 M128.96 41.34 L128.42 41.07 L127.78 40.86 L127.27 40.57 L127.05 40.11 L127.12 39.47 L127.39 38.72 L127.65 37.97 L127.73 37.33 L127.51 36.87 L127 36.58 L126.36 36.38 L125.82 36.1 M125.82 36.1 L125.22 36.06 L124.54 36.13 L123.96 36.06 L123.57 35.73 L123.38 35.11 L123.32 34.31 L123.26 33.51 L123.08 32.9 L122.68 32.56 L122.1 32.49 L121.42 32.56 L120.82 32.52 M120.82 32.52 L120.62 31.93 L120.48 31.29 L120.18 30.78 L119.65 30.48 L118.92 30.37 L118.12 30.31 L117.45 30.13 L117.04 29.72 L116.93 29.05 L117.01 28.22 L117.09 27.38 L116.98 26.71 L116.57 26.3 L115.9 26.13 L115.1 26.06 L114.37 25.95 L113.84 25.65 L113.54 25.14 L113.39 24.5 L113.2 23.91 M120.82 32.52 L120.38 32.03 L119.88 31.56 L119.56 31.03 L119.54 30.38 L119.78 29.65 L120.09 28.89 L120.25 28.18 L120.07 27.59 L119.52 27.14 L118.74 26.78 L117.95 26.41 L117.41 25.96 L117.23 25.38 L117.38 24.67 L117.7 23.91 L117.93 23.17 L117.91 22.53 L117.59 21.99 L117.09 21.53 L116.65 21.03 M125.82 36.1 L125.54 35.45 L125.12 34.79 L124.86 34.14 L124.94 33.5 L125.36 32.88 L126 32.27 L126.65 31.66 L127.07 31.04 L127.15 30.4 L126.89 29.75 L126.47 29.09 L126.19 28.44 M126.19 28.44 L126.11 27.82 L126.08 27.16 L125.9 26.61 L125.43 26.21 L124.73 25.96 L123.96 25.74 L123.34 25.44 L123.02 24.96 L123.04 24.28 L123.28 23.47 L123.52 22.67 L123.54 21.99 L123.22 21.51 L122.6 21.21 L121.83 20.99 L121.13 20.73 L120.67 20.34 L120.48 19.78 L120.46 19.13 L120.38 18.51 M126.19 28.44 L126.33 27.8 L126.55 27.15 L126.57 26.52 L126.28 25.95 L125.72 25.42 L125.08 24.9 L124.61 24.35 L124.48 23.75 L124.75 23.1 L125.26 22.4 L125.77 21.7 L126.04 21.04 L125.91 20.44 L125.44 19.9 L124.8 19.38 L124.23 18.85 L123.94 18.27 L123.97 17.65 L124.18 17 L124.33 16.36 M128.96 41.34 L128.77 40.58 L128.46 39.8 L128.3 39.04 L128.47 38.34 L128.99 37.71 L129.72 37.11 L130.45 36.51 L130.97 35.88 L131.14 35.18 L130.98 34.42 L130.67 33.64 L130.48 32.87 M130.48 32.87 L130.94 32.33 L131.52 31.82 L131.95 31.27 L132.05 30.64 L131.81 29.93 L131.36 29.17 L130.91 28.42 L130.68 27.71 L130.78 27.08 L131.2 26.53 L131.79 26.02 L132.24 25.48 M132.24 25.48 L132.28 24.85 L132.39 24.21 L132.31 23.63 L131.94 23.15 L131.3 22.76 L130.59 22.4 L130.03 21.98 L129.81 21.45 L129.97 20.79 L130.36 20.04 L130.75 19.3 L130.9 18.64 L130.68 18.1 L130.13 17.69 L129.42 17.32 L128.78 16.94 L128.4 16.46 L128.33 15.88 L128.43 15.23 L128.48 14.61 M132.24 25.48 L132.02 24.86 L131.74 24.23 L131.65 23.62 L131.87 23.01 L132.37 22.42 L132.95 21.84 L133.37 21.24 L133.43 20.64 L133.09 20.01 L132.51 19.37 L131.92 18.74 L131.59 18.11 L131.64 17.5 L132.06 16.91 L132.64 16.32 L133.14 15.73 L133.36 15.13 L133.27 14.51 L132.99 13.89 L132.77 13.27 M130.48 32.87 L131.14 32.33 L131.92 31.86 L132.55 31.3 L132.9 30.59 L132.94 29.7 L132.78 28.71 L132.63 27.72 L132.67 26.84 L133.01 26.13 L133.64 25.57 L134.42 25.09 L135.08 24.55 M135.08 24.55 L135.43 23.99 L135.84 23.43 L136.06 22.84 L135.97 22.19 L135.6 21.5 L135.16 20.8 L134.88 20.13 L134.96 19.51 L135.42 18.96 L136.13 18.45 L136.84 17.95 L137.3 17.4 L137.37 16.78 L137.09 16.11 L136.65 15.4 L136.29 14.71 L136.2 14.07 L136.42 13.48 L136.83 12.92 L137.18 12.36 M135.08 24.55 L135.19 23.81 L135.24 23.03 L135.47 22.34 L135.97 21.8 L136.72 21.39 L137.54 21.01 L138.22 20.55 L138.57 19.93 L138.58 19.13 L138.36 18.22 L138.15 17.3 L138.16 16.5 L138.51 15.88 L139.19 15.42 L140.01 15.05 L140.76 14.63 L141.26 14.09 L141.49 13.4 L141.54 12.62 L141.65 11.88 M133.8 57.5 L133.82 58.42 L133.95 59.36 L133.94 60.27 L133.69 61.11 L133.16 61.89 L132.46 62.61 L131.76 63.34 L131.24 64.12 L130.98 64.96 L130.98 65.87 L131.1 66.81 L131.12 67.73 M131.12 67.73 L130.19 67.48 L129.19 67.34 L128.28 67.06 L127.55 66.51 L127.02 65.67 L126.62 64.65 L126.22 63.63 L125.69 62.8 L124.96 62.25 L124.05 61.97 L123.05 61.83 L122.12 61.58 M122.12 61.58 L121.67 61.15 L121.25 60.59 L120.8 60.2 L120.27 60.12 L119.66 60.39 L119.01 60.87 L118.35 61.34 L117.75 61.61 L117.22 61.53 L116.76 61.14 L116.34 60.58 L115.9 60.15 M115.9 60.15 L115.44 59.76 L115.01 59.23 L114.55 58.87 L114.04 58.83 L113.47 59.13 L112.86 59.66 L112.26 60.18 L111.69 60.49 L111.18 60.45 L110.72 60.08 L110.28 59.56 L109.83 59.16 M109.83 59.16 L109.27 59.44 L108.71 59.79 L108.15 59.94 L107.56 59.78 L106.96 59.35 L106.35 58.83 L105.75 58.48 L105.17 58.48 L104.62 58.88 L104.09 59.53 L103.55 60.18 L103 60.57 L102.42 60.58 L101.83 60.23 L101.22 59.71 L100.61 59.27 L100.03 59.11 L99.46 59.26 L98.91 59.61 L98.35 59.89 M109.83 59.16 L109.38 59.65 L108.96 60.19 L108.46 60.55 L107.82 60.63 L107.06 60.47 L106.27 60.22 L105.56 60.13 L104.99 60.36 L104.59 60.95 L104.3 61.77 L104.01 62.58 L103.61 63.17 L103.04 63.4 L102.32 63.31 L101.54 63.07 L100.78 62.9 L100.14 62.98 L99.64 63.35 L99.22 63.89 L98.77 64.37 M115.9 60.15 L115.7 60.84 L115.61 61.61 L115.39 62.28 L114.93 62.72 L114.21 62.93 L113.32 63 L112.44 63.06 L111.72 63.27 L111.26 63.71 L111.04 64.38 L110.94 65.15 L110.75 65.84 M110.75 65.84 L110.13 65.75 L109.5 65.6 L108.91 65.63 L108.41 65.97 L107.97 66.58 L107.56 67.26 L107.1 67.78 L106.55 67.96 L105.9 67.76 L105.19 67.31 L104.48 66.87 L103.83 66.67 L103.28 66.84 L102.82 67.37 L102.41 68.05 L101.98 68.65 L101.47 68.99 L100.88 69.03 L100.25 68.87 L99.63 68.78 M110.75 65.84 L110.4 66.4 L110.1 67.01 L109.67 67.47 L109.06 67.67 L108.29 67.66 L107.47 67.57 L106.75 67.62 L106.24 67.96 L105.96 68.61 L105.83 69.47 L105.71 70.33 L105.43 70.98 L104.92 71.32 L104.2 71.37 L103.38 71.28 L102.6 71.26 L101.99 71.47 L101.57 71.92 L101.26 72.54 L100.92 73.1 M122.12 61.58 L122.16 62.45 L122.31 63.37 L122.32 64.23 L122.01 64.98 L121.38 65.62 L120.53 66.19 L119.69 66.76 L119.05 67.4 L118.74 68.16 L118.75 69.02 L118.91 69.94 L118.94 70.81 M118.94 70.81 L118.52 71.24 L118.12 71.79 L117.69 72.18 L117.18 72.26 L116.59 71.99 L115.95 71.51 L115.31 71.03 L114.72 70.76 L114.21 70.84 L113.78 71.23 L113.38 71.79 L112.95 72.21 M112.95 72.21 L112.54 72.68 L112.16 73.22 L111.7 73.57 L111.1 73.65 L110.37 73.47 L109.61 73.23 L108.92 73.13 L108.39 73.36 L108.03 73.93 L107.79 74.74 L107.54 75.54 L107.18 76.12 L106.65 76.34 L105.96 76.24 L105.2 76 L104.48 75.83 L103.87 75.9 L103.41 76.26 L103.03 76.79 L102.62 77.26 M112.95 72.21 L112.72 72.83 L112.54 73.49 L112.22 74.02 L111.66 74.34 L110.9 74.47 L110.07 74.55 L109.38 74.74 L108.94 75.17 L108.8 75.86 L108.84 76.73 L108.88 77.59 L108.73 78.28 L108.3 78.72 L107.6 78.91 L106.78 78.98 L106.02 79.12 L105.46 79.43 L105.13 79.96 L104.95 80.62 L104.72 81.24 M118.94 70.81 L118.43 71.3 L117.79 71.75 L117.31 72.26 L117.13 72.88 L117.29 73.61 L117.65 74.42 L118.01 75.23 L118.17 75.96 L117.99 76.58 L117.51 77.09 L116.87 77.54 L116.36 78.03 M116.36 78.03 L115.75 78.19 L115.1 78.29 L114.57 78.54 L114.24 79.05 L114.07 79.77 L113.94 80.56 L113.72 81.22 L113.28 81.59 L112.61 81.65 L111.78 81.51 L110.95 81.37 L110.27 81.43 L109.83 81.81 L109.61 82.46 L109.49 83.25 L109.32 83.98 L108.98 84.49 L108.45 84.74 L107.8 84.84 L107.2 84.99 M116.36 78.03 L115.83 78.43 L115.25 78.79 L114.83 79.25 L114.69 79.88 L114.77 80.65 L114.93 81.46 L114.95 82.18 L114.66 82.72 L114.04 83.05 L113.19 83.26 L112.35 83.47 L111.73 83.8 L111.44 84.34 L111.45 85.06 L111.61 85.87 L111.7 86.64 L111.56 87.27 L111.14 87.73 L110.56 88.09 L110.03 88.49 M131.12 67.73 L130.64 68.17 L130.03 68.58 L129.58 69.03 L129.44 69.59 L129.64 70.26 L130.04 70.99 L130.44 71.73 L130.63 72.4 L130.49 72.96 L130.04 73.41 L129.44 73.81 L128.96 74.26 M128.96 74.26 L128.42 74.53 L127.78 74.74 L127.27 75.03 L127.05 75.49 L127.12 76.13 L127.39 76.88 L127.65 77.63 L127.73 78.27 L127.51 78.73 L127 79.02 L126.36 79.22 L125.82 79.5 M125.82 79.5 L125.22 79.54 L124.54 79.47 L123.96 79.54 L123.57 79.87 L123.38 80.49 L123.32 81.29 L123.26 82.09 L123.08 82.7 L122.68 83.04 L122.1 83.11 L121.42 83.04 L120.82 83.08 M120.82 83.08 L120.26 83.35 L119.64 83.57 L119.17 83.92 L118.94 84.49 L118.92 85.23 L118.95 86.03 L118.86 86.72 L118.5 87.17 L117.85 87.36 L117.01 87.38 L116.17 87.41 L115.52 87.6 L115.16 88.05 L115.07 88.74 L115.1 89.54 L115.07 90.28 L114.84 90.84 L114.37 91.2 L113.76 91.42 L113.2 91.69 M120.82 83.08 L120.38 83.57 L119.88 84.04 L119.56 84.57 L119.54 85.22 L119.78 85.95 L120.09 86.71 L120.25 87.42 L120.07 88.01 L119.52 88.46 L118.74 88.82 L117.95 89.19 L117.41 89.64 L117.23 90.22 L117.38 90.93 L117.7 91.69 L117.93 92.43 L117.91 93.07 L117.59 93.61 L117.09 94.07 L116.65 94.57 M125.82 79.5 L126.17 80.12 L126.65 80.74 L126.96 81.36 L126.95 82.01 L126.59 82.66 L126 83.33 L125.42 84 L125.06 84.66 L125.05 85.3 L125.36 85.92 L125.84 86.54 L126.19 87.16 M126.19 87.16 L125.69 87.54 L125.13 87.87 L124.73 88.31 L124.62 88.91 L124.73 89.64 L124.92 90.42 L124.97 91.11 L124.7 91.63 L124.1 91.94 L123.28 92.13 L122.46 92.31 L121.86 92.63 L121.6 93.14 L121.64 93.83 L121.83 94.61 L121.95 95.34 L121.83 95.94 L121.44 96.38 L120.88 96.72 L120.38 97.09 M126.19 87.16 L126.33 87.8 L126.55 88.45 L126.57 89.08 L126.28 89.65 L125.72 90.18 L125.08 90.7 L124.61 91.25 L124.48 91.85 L124.75 92.5 L125.26 93.2 L125.77 93.9 L126.04 94.56 L125.91 95.16 L125.44 95.7 L124.8 96.22 L124.23 96.75 L123.94 97.33 L123.97 97.95 L124.18 98.6 L124.33 99.24 M128.96 74.26 L129.4 74.9 L129.96 75.53 L130.37 76.19 L130.46 76.9 L130.2 77.68 L129.72 78.49 L129.24 79.31 L128.98 80.08 L129.07 80.8 L129.47 81.45 L130.04 82.08 L130.48 82.73 M130.48 82.73 L130.32 83.42 L130.03 84.14 L129.9 84.82 L130.09 85.43 L130.62 85.95 L131.36 86.43 L132.11 86.9 L132.64 87.43 L132.82 88.03 L132.69 88.71 L132.4 89.43 L132.24 90.12 M132.24 90.12 L131.82 90.59 L131.34 91.03 L131.04 91.53 L131.04 92.14 L131.3 92.84 L131.64 93.57 L131.81 94.24 L131.66 94.79 L131.13 95.22 L130.36 95.56 L129.59 95.9 L129.06 96.33 L128.9 96.88 L129.08 97.55 L129.42 98.28 L129.68 98.97 L129.68 99.58 L129.38 100.09 L128.89 100.53 L128.48 100.99 M132.24 90.12 L132.51 90.72 L132.85 91.32 L132.99 91.93 L132.82 92.55 L132.37 93.18 L131.85 93.81 L131.48 94.44 L131.48 95.05 L131.87 95.64 L132.51 96.23 L133.15 96.81 L133.53 97.41 L133.53 98.02 L133.17 98.65 L132.64 99.28 L132.19 99.91 L132.02 100.53 L132.16 101.13 L132.5 101.73 L132.77 102.33 M130.48 82.73 L131.14 83.27 L131.92 83.74 L132.55 84.3 L132.9 85.01 L132.94 85.9 L132.78 86.89 L132.63 87.88 L132.67 88.76 L133.01 89.47 L133.64 90.03 L134.42 90.51 L135.08 91.05 M135.08 91.05 L135.43 91.61 L135.84 92.17 L136.06 92.76 L135.97 93.41 L135.6 94.1 L135.16 94.8 L134.88 95.47 L134.96 96.09 L135.42 96.64 L136.13 97.15 L136.84 97.65 L137.3 98.2 L137.37 98.82 L137.09 99.49 L136.65 100.2 L136.29 100.89 L136.2 101.53 L136.42 102.12 L136.83 102.68 L137.18 103.24 M135.08 91.05 L135.19 91.79 L135.24 92.57 L135.47 93.26 L135.97 93.8 L136.72 94.21 L137.54 94.59 L138.22 95.05 L138.57 95.67 L138.58 96.47 L138.36 97.38 L138.15 98.3 L138.16 99.1 L138.51 99.72 L139.19 100.18 L140.01 100.55 L140.76 100.97 L141.26 101.51 L141.49 102.2 L141.54 102.98 L141.65 103.72" fill="none" stroke="#4879ae" stroke-width="1.6" stroke-linecap="round" stroke-linejoin="round"/>
<path d="M190.25 55.71h0 M189.83 51.23h0 M188.97 46.82h0 M187.68 42.5h0 M185.98 38.34h0 M183.88 34.36h0 M181.4 30.61h0 M178.57 27.11h0 M175.4 23.91h0 M171.95 21.03h0 M168.22 18.51h0 M164.27 16.36h0 M160.12 14.61h0 M155.83 13.27h0 M151.42 12.36h0 M146.95 11.88h0 M190.25 59.89h0 M189.83 64.37h0 M188.97 68.78h0 M187.68 73.1h0 M185.98 77.26h0 M183.88 81.24h0 M181.4 84.99h0 M178.57 88.49h0 M175.4 91.69h0 M171.95 94.57h0 M168.22 97.09h0 M164.27 99.24h0 M160.12 100.99h0 M155.83 102.33h0 M151.42 103.24h0 M146.95 103.72h0 M98.35 55.71h0 M98.77 51.23h0 M99.63 46.82h0 M100.92 42.5h0 M102.62 38.34h0 M104.72 34.36h0 M107.2 30.61h0 M110.03 27.11h0 M113.2 23.91h0 M116.65 21.03h0 M120.38 18.51h0 M124.33 16.36h0 M128.48 14.61h0 M132.77 13.27h0 M137.18 12.36h0 M141.65 11.88h0 M98.35 59.89h0 M98.77 64.37h0 M99.63 68.78h0 M100.92 73.1h0 M102.62 77.26h0 M104.72 81.24h0 M107.2 84.99h0 M110.03 88.49h0 M113.2 91.69h0 M116.65 94.57h0 M120.38 97.09h0 M124.33 99.24h0 M128.48 100.99h0 M132.77 102.33h0 M137.18 103.24h0 M141.65 103.72h0" fill="none" stroke="#4879ae" stroke-width="2.1" stroke-linecap="round"/>
<text x="134.8" y="38.6" font-size="11.5" font-weight="bold" fill="#a3abbb" textLength="15.8" lengthAdjust="spacingAndGlyphs">G5</text>
<path d="M228.3 101.8V18.3H341" fill="none" stroke="#aab2a6" stroke-width="0.7"/>
<path d="M228.3 101.8H341V18.3" fill="none" stroke="#7e837a" stroke-width="0.7"/>
<path d="M228.3 60.05 H341" stroke="#7c8278" stroke-width="0.6"/>
<path d="M228.3 49.32 H341" stroke="#5c5c5c" stroke-width="0.5" stroke-dasharray="1.5 0.9"/>
<path d="M228.3 70.91 H341" stroke="#5c5c5c" stroke-width="0.5" stroke-dasharray="1.5 0.9"/>
<path d="M228.3 18.3 h-1.3" stroke="#777" stroke-width="0.45"/>
<text x="226.1" y="19.9" font-size="4.4" font-family="DejaVu Sans, sans-serif" fill="#4c4c4c" text-anchor="end">1.00</text>
<path d="M228.3 28.74 h-1.3" stroke="#777" stroke-width="0.45"/>
<text x="226.1" y="30.34" font-size="4.4" font-family="DejaVu Sans, sans-serif" fill="#4c4c4c" text-anchor="end">0.75</text>
<path d="M228.3 39.17 h-1.3" stroke="#777" stroke-width="0.45"/>
<text x="226.1" y="40.77" font-size="4.4" font-family="DejaVu Sans, sans-serif" fill="#4c4c4c" text-anchor="end">0.50</text>
<path d="M228.3 49.61 h-1.3" stroke="#777" stroke-width="0.45"/>
<text x="226.1" y="51.21" font-size="4.4" font-family="DejaVu Sans, sans-serif" fill="#4c4c4c" text-anchor="end">0.25</text>
<path d="M228.3 60.05 h-1.3" stroke="#777" stroke-width="0.45"/>
<text x="226.1" y="61.65" font-size="4.4" font-family="DejaVu Sans, sans-serif" fill="#4c4c4c" text-anchor="end">0.00</text>
<path d="M228.3 70.49 h-1.3" stroke="#777" stroke-width="0.45"/>
<text x="226.1" y="72.09" font-size="4.4" font-family="DejaVu Sans, sans-serif" fill="#4c4c4c" text-anchor="end">−0.25</text>
<path d="M228.3 80.92 h-1.3" stroke="#777" stroke-width="0.45"/>
<text x="226.1" y="82.52" font-size="4.4" font-family="DejaVu Sans, sans-serif" fill="#4c4c4c" text-anchor="end">−0.50</text>
<path d="M228.3 91.36 h-1.3" stroke="#777" stroke-width="0.45"/>
<text x="226.1" y="92.96" font-size="4.4" font-family="DejaVu Sans, sans-serif" fill="#4c4c4c" text-anchor="end">−0.75</text>
<path d="M228.3 101.8 h-1.3" stroke="#777" stroke-width="0.45"/>
<text x="226.1" y="103.4" font-size="4.4" font-family="DejaVu Sans, sans-serif" fill="#4c4c4c" text-anchor="end">−1.00</text>
<path d="M241.58 101.8 v1.3" stroke="#777" stroke-width="0.45"/>
<text x="241.58" y="107.5" font-size="4.4" font-family="DejaVu Sans, sans-serif" fill="#4c4c4c" text-anchor="middle">10</text>
<path d="M256.66 101.8 v1.3" stroke="#777" stroke-width="0.45"/>
<text x="256.66" y="107.5" font-size="4.4" font-family="DejaVu Sans, sans-serif" fill="#4c4c4c" text-anchor="middle">20</text>
<path d="M271.74 101.8 v1.3" stroke="#777" stroke-width="0.45"/>
<text x="271.74" y="107.5" font-size="4.4" font-family="DejaVu Sans, sans-serif" fill="#4c4c4c" text-anchor="middle">30</text>
<path d="M286.82 101.8 v1.3" stroke="#777" stroke-width="0.45"/>
<text x="286.82" y="107.5" font-size="4.4" font-family="DejaVu Sans, sans-serif" fill="#4c4c4c" text-anchor="middle">40</text>
<path d="M301.9 101.8 v1.3" stroke="#777" stroke-width="0.45"/>
<text x="301.9" y="107.5" font-size="4.4" font-family="DejaVu Sans, sans-serif" fill="#4c4c4c" text-anchor="middle">50</text>
<path d="M316.98 101.8 v1.3" stroke="#777" stroke-width="0.45"/>
<text x="316.98" y="107.5" font-size="4.4" font-family="DejaVu Sans, sans-serif" fill="#4c4c4c" text-anchor="middle">60</text>
<path d="M332.06 101.8 v1.3" stroke="#777" stroke-width="0.45"/>
<text x="332.06" y="107.5" font-size="4.4" font-family="DejaVu Sans, sans-serif" fill="#4c4c4c" text-anchor="middle">70</text>
<text x="284.65" y="113.2" font-size="5.3" font-family="DejaVu Sans, sans-serif" fill="#4c4c4c" text-anchor="middle">Residue</text>
<text transform="translate(210.3 60.05) rotate(-90)" font-size="5" font-family="DejaVu Sans, sans-serif" fill="#4c4c4c" text-anchor="middle">NCPR</text>
<text x="252.35" y="11.9" font-size="9.4" fill="#3a3a3a" textLength="38.3" lengthAdjust="spacingAndGlyphs">Ubiquitin</text>
<path d="M232.28 60.05 L232.28 51.7 L233.29 51.7 L233.29 51.7 L234.79 51.7 L234.79 51.7 L236.3 51.7 L236.3 51.7 L237.81 51.7 L237.81 51.7 L239.32 51.7 L239.32 51.7 L240.83 51.7 L240.83 51.7 L242.33 51.7 L242.33 51.7 L243.84 51.7 L243.84 51.7 L245.35 51.7 L245.35 51.7 L246.86 51.7 L246.86 60.05Z" fill="#4242e4"/>
<path d="M246.86 60.05 L246.86 68.4 L248.37 68.4 L248.37 68.4 L249.87 68.4 L249.87 76.75 L251.38 76.75 L251.38 76.75 L252.89 76.75 L252.89 76.75 L254.4 76.75 L254.4 76.75 L255.91 76.75 L255.91 76.75 L257.41 76.75 L257.41 68.4 L258.92 68.4 L258.92 76.75 L260.43 76.75 L260.43 76.75 L261.94 76.75 L261.94 68.4 L263.45 68.4 L263.45 60.05Z" fill="#e2432f"/>
<path d="M266.46 60.05 L266.46 43.35 L267.97 43.35 L267.97 43.35 L269.48 43.35 L269.48 43.35 L270.99 43.35 L270.99 60.05Z" fill="#4242e4"/>
<path d="M272.79 60.05 L272.79 51.7 L274 51.7 L274 60.05Z" fill="#4242e4"/>
<path d="M274 60.05 L274 68.4 L275.51 68.4 L275.51 68.4 L277.02 68.4 L277.02 68.4 L278.53 68.4 L278.53 60.05Z" fill="#e2432f"/>
<path d="M280.03 60.05 L280.03 68.4 L281.54 68.4 L281.54 68.4 L283.05 68.4 L283.05 68.4 L284.56 68.4 L284.56 68.4 L286.07 68.4 L286.07 60.05Z" fill="#e2432f"/>
<path d="M289.08 60.05 L289.08 51.7 L290.59 51.7 L290.59 51.7 L292.1 51.7 L292.1 51.7 L293.61 51.7 L293.61 60.05Z" fill="#4242e4"/>
<path d="M295.11 60.05 L295.11 51.7 L296.62 51.7 L296.62 51.7 L298.13 51.7 L298.13 51.7 L299.64 51.7 L299.64 60.05Z" fill="#4242e4"/>
<path d="M301.15 60.05 L301.15 68.4 L302.65 68.4 L302.65 76.75 L304.16 76.75 L304.16 68.4 L305.67 68.4 L305.67 68.4 L307.18 68.4 L307.18 60.05Z" fill="#e2432f"/>
<path d="M308.69 60.05 L308.69 51.7 L310.19 51.7 L310.19 60.05Z" fill="#4242e4"/>
<path d="M311.7 60.05 L311.7 68.4 L313.21 68.4 L313.21 68.4 L314.72 68.4 L314.72 68.4 L316.23 68.4 L316.23 68.4 L317.73 68.4 L317.73 60.05Z" fill="#e2432f"/>
<path d="M317.73 60.05 L317.73 51.7 L319.24 51.7 L319.24 60.05Z" fill="#4242e4"/>
<path d="M325.27 60.05 L325.27 68.4 L326.78 68.4 L326.78 60.05Z" fill="#e2432f"/>
<path d="M331.31 60.05 L331.31 51.7 L332.81 51.7 L332.81 51.7 L334.32 51.7 L334.32 43.35 L335.83 43.35 L335.83 43.35 L337.34 43.35 L337.34 43.35 L338.85 43.35 L338.85 60.05Z" fill="#4242e4"/>
<path d="M232.3 60.05V51.7" stroke="#2a2a9c" stroke-width="0.5" opacity="0.55"/>
<path d="M234.8 60.05V51.7" stroke="#2a2a9c" stroke-width="0.5" opacity="0.55"/>
<path d="M237.3 60.05V51.7" stroke="#2a2a9c" stroke-width="0.5" opacity="0.55"/>
<path d="M239.8 60.05V51.7" stroke="#2a2a9c" stroke-width="0.5" opacity="0.55"/>
<path d="M242.3 60.05V51.7" stroke="#2a2a9c" stroke-width="0.5" opacity="0.55"/>
<path d="M244.8 60.05V51.7" stroke="#2a2a9c" stroke-width="0.5" opacity="0.55"/>
<path d="M247.3 60.05V68.4" stroke="#a02a1c" stroke-width="0.5" opacity="0.55"/>
<path d="M249.8 60.05V68.4" stroke="#a02a1c" stroke-width="0.5" opacity="0.55"/>
<path d="M252.3 60.05V76.75" stroke="#a02a1c" stroke-width="0.5" opacity="0.55"/>
<path d="M254.8 60.05V76.75" stroke="#a02a1c" stroke-width="0.5" opacity="0.55"/>
<path d="M257.3 60.05V76.75" stroke="#a02a1c" stroke-width="0.5" opacity="0.55"/>
<path d="M259.8 60.05V76.75" stroke="#a02a1c" stroke-width="0.5" opacity="0.55"/>
<path d="M262.3 60.05V68.4" stroke="#a02a1c" stroke-width="0.5" opacity="0.55"/>
<path d="M267.3 60.05V43.35" stroke="#2a2a9c" stroke-width="0.5" opacity="0.55"/>
<path d="M269.8 60.05V43.35" stroke="#2a2a9c" stroke-width="0.5" opacity="0.55"/>
<path d="M274.8 60.05V68.4" stroke="#a02a1c" stroke-width="0.5" opacity="0.55"/>
<path d="M277.3 60.05V68.4" stroke="#a02a1c" stroke-width="0.5" opacity="0.55"/>
<path d="M282.3 60.05V68.4" stroke="#a02a1c" stroke-width="0.5" opacity="0.55"/>
<path d="M284.8 60.05V68.4" stroke="#a02a1c" stroke-width="0.5" opacity="0.55"/>
<path d="M289.8 60.05V51.7" stroke="#2a2a9c" stroke-width="0.5" opacity="0.55"/>
<path d="M292.3 60.05V51.7" stroke="#2a2a9c" stroke-width="0.5" opacity="0.55"/>
<path d="M297.3 60.05V51.7" stroke="#2a2a9c" stroke-width="0.5" opacity="0.55"/>
<path d="M302.3 60.05V68.4" stroke="#a02a1c" stroke-width="0.5" opacity="0.55"/>
<path d="M304.8 60.05V68.4" stroke="#a02a1c" stroke-width="0.5" opacity="0.55"/>
<path d="M309.8 60.05V51.7" stroke="#2a2a9c" stroke-width="0.5" opacity="0.55"/>
<path d="M312.3 60.05V68.4" stroke="#a02a1c" stroke-width="0.5" opacity="0.55"/>
<path d="M314.8 60.05V68.4" stroke="#a02a1c" stroke-width="0.5" opacity="0.55"/>
<path d="M317.3 60.05V68.4" stroke="#a02a1c" stroke-width="0.5" opacity="0.55"/>
<path d="M332.3 60.05V51.7" stroke="#2a2a9c" stroke-width="0.5" opacity="0.55"/>
<path d="M334.8 60.05V43.35" stroke="#2a2a9c" stroke-width="0.5" opacity="0.55"/>
<path d="M337.3 60.05V43.35" stroke="#2a2a9c" stroke-width="0.5" opacity="0.55"/>
<path d="M396.6 102.6V18.6H509.9" fill="none" stroke="#aab2a6" stroke-width="0.7"/>
<path d="M396.6 102.6H509.9V18.6" fill="none" stroke="#7e837a" stroke-width="0.7"/>
<path d="M396.6 60.6 H509.9" stroke="#7c8278" stroke-width="0.6"/>
<path d="M396.6 49.81 H509.9" stroke="#5c5c5c" stroke-width="0.5" stroke-dasharray="1.5 0.9"/>
<path d="M396.6 71.52 H509.9" stroke="#5c5c5c" stroke-width="0.5" stroke-dasharray="1.5 0.9"/>
<path d="M396.6 18.6 h-1.3" stroke="#777" stroke-width="0.45"/>
<text x="394.4" y="20.2" font-size="4.4" font-family="DejaVu Sans, sans-serif" fill="#4c4c4c" text-anchor="end">1.00</text>
<path d="M396.6 29.1 h-1.3" stroke="#777" stroke-width="0.45"/>
<text x="394.4" y="30.7" font-size="4.4" font-family="DejaVu Sans, sans-serif" fill="#4c4c4c" text-anchor="end">0.75</text>
<path d="M396.6 39.6 h-1.3" stroke="#777" stroke-width="0.45"/>
<text x="394.4" y="41.2" font-size="4.4" font-family="DejaVu Sans, sans-serif" fill="#4c4c4c" text-anchor="end">0.50</text>
<path d="M396.6 50.1 h-1.3" stroke="#777" stroke-width="0.45"/>
<text x="394.4" y="51.7" font-size="4.4" font-family="DejaVu Sans, sans-serif" fill="#4c4c4c" text-anchor="end">0.25</text>
<path d="M396.6 60.6 h-1.3" stroke="#777" stroke-width="0.45"/>
<text x="394.4" y="62.2" font-size="4.4" font-family="DejaVu Sans, sans-serif" fill="#4c4c4c" text-anchor="end">0.00</text>
<path d="M396.6 71.1 h-1.3" stroke="#777" stroke-width="0.45"/>
<text x="394.4" y="72.7" font-size="4.4" font-family="DejaVu Sans, sans-serif" fill="#4c4c4c" text-anchor="end">−0.25</text>
<path d="M396.6 81.6 h-1.3" stroke="#777" stroke-width="0.45"/>
<text x="394.4" y="83.2" font-size="4.4" font-family="DejaVu Sans, sans-serif" fill="#4c4c4c" text-anchor="end">−0.50</text>
<path d="M396.6 92.1 h-1.3" stroke="#777" stroke-width="0.45"/>
<text x="394.4" y="93.7" font-size="4.4" font-family="DejaVu Sans, sans-serif" fill="#4c4c4c" text-anchor="end">−0.75</text>
<path d="M396.6 102.6 h-1.3" stroke="#777" stroke-width="0.45"/>
<text x="394.4" y="104.2" font-size="4.4" font-family="DejaVu Sans, sans-serif" fill="#4c4c4c" text-anchor="end">−1.00</text>
<path d="M421.14 102.6 v1.3" stroke="#777" stroke-width="0.45"/>
<text x="421.14" y="108.3" font-size="4.4" font-family="DejaVu Sans, sans-serif" fill="#4c4c4c" text-anchor="middle">50</text>
<path d="M446.67 102.6 v1.3" stroke="#777" stroke-width="0.45"/>
<text x="446.67" y="108.3" font-size="4.4" font-family="DejaVu Sans, sans-serif" fill="#4c4c4c" text-anchor="middle">100</text>
<path d="M472.21 102.6 v1.3" stroke="#777" stroke-width="0.45"/>
<text x="472.21" y="108.3" font-size="4.4" font-family="DejaVu Sans, sans-serif" fill="#4c4c4c" text-anchor="middle">150</text>
<path d="M497.74 102.6 v1.3" stroke="#777" stroke-width="0.45"/>
<text x="497.74" y="108.3" font-size="4.4" font-family="DejaVu Sans, sans-serif" fill="#4c4c4c" text-anchor="middle">200</text>
<text x="453.25" y="114" font-size="5.3" font-family="DejaVu Sans, sans-serif" fill="#4c4c4c" text-anchor="middle">Residue</text>
<text transform="translate(378.6 60.6) rotate(-90)" font-size="5" font-family="DejaVu Sans, sans-serif" fill="#4c4c4c" text-anchor="middle">NCPR</text>
<text x="421.4" y="13.1" font-size="9.4" fill="#3a3a3a" textLength="34.2" lengthAdjust="spacingAndGlyphs">β-casein</text>
<rect x="397.08" y="52.2" width="1.49" height="8.4" fill="#3434e4" opacity="0.75"/>
<rect x="402.85" y="52.2" width="0.74" height="8.4" fill="#3434e4" opacity="0.6"/>
<rect x="415.69" y="52.2" width="4.1" height="8.4" fill="#3434e4"/>
<rect x="416.62" y="43.8" width="2.23" height="16.8" fill="#3434e4"/>
<rect x="417.18" y="35.4" width="0.74" height="25.2" fill="#3434e4"/>
<rect x="428.73" y="52.2" width="0.93" height="8.4" fill="#3434e4" opacity="0.6"/>
<rect x="452" y="52.2" width="2.23" height="8.4" fill="#3434e4"/>
<rect x="452.74" y="43.8" width="0.74" height="16.8" fill="#3434e4" opacity="0.5"/>
<rect x="455.91" y="52.2" width="2.23" height="8.4" fill="#3434e4"/>
<rect x="456.65" y="43.8" width="0.74" height="16.8" fill="#3434e4" opacity="0.5"/>
<rect x="404.52" y="60.6" width="2.61" height="8.4" fill="#e23a2a"/>
<rect x="405.27" y="60.6" width="1.86" height="16.8" fill="#e23a2a"/>
<rect x="405.27" y="60.6" width="0.56" height="25.2" fill="#e23a2a" opacity="0.8"/>
<rect x="408.25" y="60.6" width="3.72" height="8.4" fill="#e23a2a"/>
<rect x="409.36" y="60.6" width="1.12" height="16.8" fill="#e23a2a"/>
<rect x="412.9" y="60.6" width="2.05" height="16.8" fill="#e23a2a"/>
<rect x="420.91" y="60.6" width="6.33" height="8.4" fill="#e23a2a"/>
<rect x="420.91" y="60.6" width="2.23" height="16.8" fill="#e23a2a"/>
<rect x="424.63" y="60.6" width="2.23" height="25.2" fill="#e23a2a"/>
<rect x="448.83" y="60.6" width="2.23" height="8.4" fill="#e23a2a"/>
<rect x="454.98" y="60.6" width="0.74" height="8.4" fill="#e23a2a" opacity="0.7"/>
<rect x="459.07" y="60.6" width="0.93" height="8.4" fill="#e23a2a" opacity="0.7"/>
<rect x="460.03" y="52.2" width="1.86" height="8.4" fill="#3434e4"/>
<rect x="488.33" y="52.2" width="2.42" height="8.4" fill="#3434e4"/>
<rect x="491.86" y="52.2" width="2.61" height="8.4" fill="#3434e4"/>
<rect x="494.47" y="52.2" width="1.49" height="8.4" fill="#3434e4" opacity="0.5"/>
<rect x="505.08" y="52.2" width="2.79" height="8.4" fill="#3434e4"/>
<rect x="458.91" y="60.6" width="0.74" height="8.4" fill="#e23a2a" opacity="0.7"/>
<rect x="462.45" y="60.6" width="4.28" height="8.4" fill="#e23a2a"/>
<rect x="463.94" y="60.6" width="0.74" height="16.8" fill="#e23a2a"/>
<rect x="468.03" y="60.6" width="3.72" height="8.4" fill="#e23a2a"/>
<rect x="469.15" y="60.6" width="1.3" height="16.8" fill="#e23a2a"/>
<rect x="498.01" y="60.6" width="0.93" height="8.4" fill="#e23a2a" opacity="0.6"/>
<rect x="501.55" y="60.6" width="2.42" height="8.4" fill="#e23a2a"/>
<path d="M549.7 102.2V18.4H661.4" fill="none" stroke="#aab2a6" stroke-width="0.7"/>
<path d="M549.7 102.2H661.4V18.4" fill="none" stroke="#7e837a" stroke-width="0.7"/>
<path d="M549.7 60.3 H661.4" stroke="#7c8278" stroke-width="0.6"/>
<path d="M549.7 49.53 H661.4" stroke="#5c5c5c" stroke-width="0.5" stroke-dasharray="1.5 0.9"/>
<path d="M549.7 71.19 H661.4" stroke="#5c5c5c" stroke-width="0.5" stroke-dasharray="1.5 0.9"/>
<path d="M549.7 18.4 h-1.3" stroke="#777" stroke-width="0.45"/>
<text x="547.5" y="20" font-size="4.4" font-family="DejaVu Sans, sans-serif" fill="#4c4c4c" text-anchor="end">1.00</text>
<path d="M549.7 28.88 h-1.3" stroke="#777" stroke-width="0.45"/>
<text x="547.5" y="30.48" font-size="4.4" font-family="DejaVu Sans, sans-serif" fill="#4c4c4c" text-anchor="end">0.75</text>
<path d="M549.7 39.35 h-1.3" stroke="#777" stroke-width="0.45"/>
<text x="547.5" y="40.95" font-size="4.4" font-family="DejaVu Sans, sans-serif" fill="#4c4c4c" text-anchor="end">0.50</text>
<path d="M549.7 49.83 h-1.3" stroke="#777" stroke-width="0.45"/>
<text x="547.5" y="51.43" font-size="4.4" font-family="DejaVu Sans, sans-serif" fill="#4c4c4c" text-anchor="end">0.25</text>
<path d="M549.7 60.3 h-1.3" stroke="#777" stroke-width="0.45"/>
<text x="547.5" y="61.9" font-size="4.4" font-family="DejaVu Sans, sans-serif" fill="#4c4c4c" text-anchor="end">0.00</text>
<path d="M549.7 70.78 h-1.3" stroke="#777" stroke-width="0.45"/>
<text x="547.5" y="72.38" font-size="4.4" font-family="DejaVu Sans, sans-serif" fill="#4c4c4c" text-anchor="end">−0.25</text>
<path d="M549.7 81.25 h-1.3" stroke="#777" stroke-width="0.45"/>
<text x="547.5" y="82.85" font-size="4.4" font-family="DejaVu Sans, sans-serif" fill="#4c4c4c" text-anchor="end">−0.50</text>
<path d="M549.7 91.73 h-1.3" stroke="#777" stroke-width="0.45"/>
<text x="547.5" y="93.33" font-size="4.4" font-family="DejaVu Sans, sans-serif" fill="#4c4c4c" text-anchor="end">−0.75</text>
<path d="M549.7 102.2 h-1.3" stroke="#777" stroke-width="0.45"/>
<text x="547.5" y="103.8" font-size="4.4" font-family="DejaVu Sans, sans-serif" fill="#4c4c4c" text-anchor="end">−1.00</text>
<path d="M565.31 102.2 v1.3" stroke="#777" stroke-width="0.45"/>
<text x="565.31" y="107.9" font-size="4.4" font-family="DejaVu Sans, sans-serif" fill="#4c4c4c" text-anchor="middle">20</text>
<path d="M581.33 102.2 v1.3" stroke="#777" stroke-width="0.45"/>
<text x="581.33" y="107.9" font-size="4.4" font-family="DejaVu Sans, sans-serif" fill="#4c4c4c" text-anchor="middle">40</text>
<path d="M597.34 102.2 v1.3" stroke="#777" stroke-width="0.45"/>
<text x="597.34" y="107.9" font-size="4.4" font-family="DejaVu Sans, sans-serif" fill="#4c4c4c" text-anchor="middle">60</text>
<path d="M613.36 102.2 v1.3" stroke="#777" stroke-width="0.45"/>
<text x="613.36" y="107.9" font-size="4.4" font-family="DejaVu Sans, sans-serif" fill="#4c4c4c" text-anchor="middle">80</text>
<path d="M629.37 102.2 v1.3" stroke="#777" stroke-width="0.45"/>
<text x="629.37" y="107.9" font-size="4.4" font-family="DejaVu Sans, sans-serif" fill="#4c4c4c" text-anchor="middle">100</text>
<path d="M645.38 102.2 v1.3" stroke="#777" stroke-width="0.45"/>
<text x="645.38" y="107.9" font-size="4.4" font-family="DejaVu Sans, sans-serif" fill="#4c4c4c" text-anchor="middle">120</text>
<path d="M661.4 102.2 v1.3" stroke="#777" stroke-width="0.45"/>
<text x="661.4" y="107.9" font-size="4.4" font-family="DejaVu Sans, sans-serif" fill="#4c4c4c" text-anchor="middle">140</text>
<text x="605.55" y="113.6" font-size="5.3" font-family="DejaVu Sans, sans-serif" fill="#4c4c4c" text-anchor="middle">Residue</text>
<text transform="translate(531.7 60.3) rotate(-90)" font-size="5" font-family="DejaVu Sans, sans-serif" fill="#4c4c4c" text-anchor="middle">NCPR</text>
<text x="577.5" y="13.1" font-size="9.4" fill="#3a3a3a" textLength="44.2" lengthAdjust="spacingAndGlyphs">α-Synuclein</text>
<rect x="553.01" y="51.92" width="6.14" height="8.38" fill="#3434e4"/>
<rect x="555.05" y="43.54" width="0.74" height="16.76" fill="#3434e4"/>
<rect x="556.73" y="43.54" width="0.74" height="16.76" fill="#3434e4"/>
<rect x="565.67" y="51.92" width="4.1" height="8.38" fill="#3434e4"/>
<rect x="566.97" y="43.54" width="0.93" height="16.76" fill="#3434e4"/>
<rect x="573.86" y="51.92" width="2.98" height="8.38" fill="#3434e4"/>
<rect x="574.23" y="43.54" width="1.3" height="16.76" fill="#3434e4" opacity="0.5"/>
<rect x="581.86" y="51.92" width="4.1" height="8.38" fill="#3434e4"/>
<rect x="583.17" y="43.54" width="0.93" height="16.76" fill="#3434e4"/>
<rect x="594.9" y="51.92" width="0.93" height="8.38" fill="#3434e4"/>
<rect x="596.76" y="51.92" width="1.12" height="8.38" fill="#3434e4"/>
<rect x="611.65" y="51.92" width="2.23" height="8.38" fill="#3434e4"/>
<rect x="550.96" y="60.3" width="0.93" height="8.38" fill="#e23a2a"/>
<rect x="560.83" y="60.3" width="0.93" height="8.38" fill="#e23a2a"/>
<rect x="562.87" y="60.3" width="0.93" height="8.38" fill="#e23a2a"/>
<rect x="569.76" y="60.3" width="3.17" height="8.38" fill="#e23a2a"/>
<rect x="578.14" y="60.3" width="1.3" height="8.38" fill="#e23a2a" opacity="0.6"/>
<rect x="587.08" y="60.3" width="1.3" height="8.38" fill="#e23a2a" opacity="0.6"/>
<rect x="592.85" y="60.3" width="1.12" height="8.38" fill="#e23a2a"/>
<rect x="599.18" y="60.3" width="1.3" height="8.38" fill="#e23a2a" opacity="0.6"/>
<rect x="624.18" y="51.92" width="4.1" height="8.38" fill="#3434e4"/>
<rect x="624.92" y="43.54" width="0.93" height="16.76" fill="#3434e4"/>
<rect x="629.95" y="51.92" width="0.93" height="8.38" fill="#3434e4"/>
<rect x="615.43" y="60.3" width="2.23" height="8.38" fill="#e23a2a"/>
<rect x="631.62" y="60.3" width="29.23" height="8.38" fill="#e23a2a"/>
<rect x="632.93" y="60.3" width="1.86" height="16.76" fill="#e23a2a"/>
<rect x="639.07" y="60.3" width="5.03" height="16.76" fill="#e23a2a"/>
<rect x="645.22" y="60.3" width="4.84" height="16.76" fill="#e23a2a"/>
<rect x="645.96" y="60.3" width="0.74" height="25.14" fill="#e23a2a"/>
<rect x="652.1" y="60.3" width="8.75" height="16.76" fill="#e23a2a"/>
<rect x="658.99" y="60.3" width="0.93" height="25.14" fill="#e23a2a"/>
<path d="M632.93 60.3 v8.38" stroke="#9a2a1e" stroke-width="0.3" opacity="0.6"/>
<path d="M634.6 60.3 v8.38" stroke="#9a2a1e" stroke-width="0.3" opacity="0.6"/>
<path d="M636.28 60.3 v8.38" stroke="#9a2a1e" stroke-width="0.3" opacity="0.6"/>
<path d="M637.95 60.3 v8.38" stroke="#9a2a1e" stroke-width="0.3" opacity="0.6"/>
<path d="M639.63 60.3 v8.38" stroke="#9a2a1e" stroke-width="0.3" opacity="0.6"/>
<path d="M641.31 60.3 v8.38" stroke="#9a2a1e" stroke-width="0.3" opacity="0.6"/>
<path d="M642.98 60.3 v8.38" stroke="#9a2a1e" stroke-width="0.3" opacity="0.6"/>
<path d="M644.66 60.3 v8.38" stroke="#9a2a1e" stroke-width="0.3" opacity="0.6"/>
<path d="M646.33 60.3 v8.38" stroke="#9a2a1e" stroke-width="0.3" opacity="0.6"/>
<path d="M648.01 60.3 v8.38" stroke="#9a2a1e" stroke-width="0.3" opacity="0.6"/>
<path d="M649.68 60.3 v8.38" stroke="#9a2a1e" stroke-width="0.3" opacity="0.6"/>
<path d="M651.36 60.3 v8.38" stroke="#9a2a1e" stroke-width="0.3" opacity="0.6"/>
<path d="M653.04 60.3 v8.38" stroke="#9a2a1e" stroke-width="0.3" opacity="0.6"/>
<path d="M654.71 60.3 v8.38" stroke="#9a2a1e" stroke-width="0.3" opacity="0.6"/>
<path d="M656.39 60.3 v8.38" stroke="#9a2a1e" stroke-width="0.3" opacity="0.6"/>
<path d="M658.06 60.3 v8.38" stroke="#9a2a1e" stroke-width="0.3" opacity="0.6"/>
<path d="M659.74 60.3 v8.38" stroke="#9a2a1e" stroke-width="0.3" opacity="0.6"/>
<defs><linearGradient id="wb" x1="0" y1="0" x2="0" y2="1"><stop offset="0" stop-color="#fff" stop-opacity="0"/><stop offset="0.72" stop-color="#fff" stop-opacity="1"/><stop offset="1" stop-color="#fff"/></linearGradient></defs>
<rect x="28" y="226.6" width="650" height="6" fill="url(#wb)"/>
<path d="M36.3 225.75 H171.9" stroke="#3a3d40" stroke-width="0.9"/>
<path d="M36.3 225.75 v2.1" stroke="#3a3d40" stroke-width="0.6"/>
<text x="36.3" y="234.3" font-size="5.4" fill="#3c3c3c" text-anchor="middle">500</text>
<path d="M58.9 225.75 v2.1" stroke="#3a3d40" stroke-width="0.6"/>
<text x="58.9" y="234.3" font-size="5.4" fill="#3c3c3c" text-anchor="middle">1000</text>
<path d="M81.5 225.75 v2.1" stroke="#3a3d40" stroke-width="0.6"/>
<text x="81.5" y="234.3" font-size="5.4" fill="#3c3c3c" text-anchor="middle">1500</text>
<path d="M104.1 225.75 v2.1" stroke="#3a3d40" stroke-width="0.6"/>
<text x="104.1" y="234.3" font-size="5.4" fill="#3c3c3c" text-anchor="middle">2000</text>
<path d="M126.7 225.75 v2.1" stroke="#3a3d40" stroke-width="0.6"/>
<text x="126.7" y="234.3" font-size="5.4" fill="#3c3c3c" text-anchor="middle">2500</text>
<path d="M149.3 225.75 v2.1" stroke="#3a3d40" stroke-width="0.6"/>
<text x="149.3" y="234.3" font-size="5.4" fill="#3c3c3c" text-anchor="middle">3000</text>
<path d="M171.9 225.75 v2.1" stroke="#3a3d40" stroke-width="0.6"/>
<text x="171.9" y="234.3" font-size="5.4" fill="#3c3c3c" text-anchor="middle">3500</text>
<path d="M47.6 225.75v1.4 M70.2 225.75v1.4 M92.8 225.75v1.4 M115.4 225.75v1.4 M138 225.75v1.4 M160.6 225.75v1.4" stroke="#3a3d40" stroke-width="0.45"/>
<text x="93.5" y="240.9" font-size="6.6" fill="#2c2c2c" text-anchor="middle">m/z</text>
<path d="M36.3 225.3 L36.3 225.23 L36.9 225.14 L37.5 225.19 L38.1 225.12 L38.7 225.11 L39.3 225.28 L39.9 225.3 L40.5 225.05 L41.1 225.22 L41.7 225.23 L42.3 225 L42.9 225.16 L43.5 225.05 L44.1 225.16 L44.7 225.11 L45.3 225.25 L45.9 225.11 L46.5 225.04 L47.1 225.14 L47.7 225.08 L48.3 225.1 L48.9 225.28 L49.5 225.07 L50.1 225.12 L50.7 225.21 L51.3 225.29 L51.9 225.04 L52.5 225.16 L53.1 225.08 L53.7 225.04 L54.3 225.09 L54.9 225.02 L55.5 225.18 L56.1 225.06 L56.7 225.17 L57.3 225.02 L57.9 225.04 L58.5 225.27 L59.1 225.26 L59.7 225.23 L60.3 225.01 L60.9 225.17 L61.5 225.11 L62.1 225.21 L62.7 225.15 L63.3 225.18 L63.9 225.19 L64.5 225.12 L65.1 225.12 L65.7 225.03 L66.3 225.1 L66.9 225.02 L67.5 225.04 L68.1 225 L68.7 225.1 L69.3 225.25 L69.9 225.04 L70.5 225.01 L71.1 225.03 L71.7 225.13 L72.3 225.09 L72.9 225.24 L73.5 225.05 L74.1 225.13 L74.7 225.21 L75.3 225.28 L75.9 225.04 L76.5 225 L77.1 225.27 L77.7 225.06 L78.3 225.18 L78.9 225.25 L79.5 225.21 L80.1 225.07 L80.7 225.04 L81.3 225.29 L81.9 225.12 L82.5 225.29 L83.1 225.08 L83.7 225.2 L84.3 225.04 L84.9 225.01 L85.5 225.15 L86.1 225 L86.7 225.21 L87.3 225.28 L87.9 225.12 L88.5 225.29 L89.1 225.24 L89.7 225.18 L90.3 225.12 L90.9 225.25 L91.5 225.29 L92.1 225.04 L92.7 225.21 L93.3 225.01 L93.9 225.03 L94.5 225.19 L95.1 225.16 L95.7 225.14 L96.3 225.11 L96.9 225.12 L97.5 225.13 L98.1 225.11 L98.7 225.02 L99.3 225.15 L99.9 225.17 L100.5 225.08 L101.1 225.23 L101.7 225.21 L102.3 225.01 L102.9 225.14 L103.5 225.14 L104.1 225.3 L104.7 225.18 L105.3 225.13 L105.9 225.29 L106.5 225.12 L107.1 225.11 L107.7 225.28 L108.3 225.11 L108.9 225.16 L109.5 225.1 L110.1 225.19 L110.7 225.09 L111.3 225.08 L111.9 225.29 L112.5 225.28 L113.1 225.1 L113.7 225.01 L114.3 225.22 L114.9 225.16 L115.5 225.12 L116.1 225.2 L116.7 225.19 L117.3 225.21 L117.9 225.19 L118.5 225.12 L119.1 225.21 L119.7 225.19 L120.3 225.07 L120.9 225.29 L121.5 225.13 L122.1 225.08 L122.7 225.21 L123.3 225.23 L123.9 225.06 L124.5 225.23 L125.1 225.24 L125.7 225.17 L126.3 225.09 L126.9 225.27 L127.5 225.2 L128.1 225.2 L128.7 225.05 L129.3 225.17 L129.9 225.04 L130.5 225.25 L131.1 225.2 L131.7 225.1 L132.3 225.03 L132.9 225.16 L133.5 225.23 L134.1 225.26 L134.7 225.14 L135.3 225.24 L135.9 225.06 L136.5 225.05 L137.1 225.24 L137.7 225.22 L138.3 225.06 L138.9 225.11 L139.5 225.06 L140.1 225.2 L140.7 225.26 L141.3 225.21 L141.9 225.06 L142.5 225.22 L143.1 225.2 L143.7 225.17 L144.3 225.17 L144.9 225.18 L145.5 225.02 L146.1 225.25 L146.7 225.3 L147.3 225.02 L147.9 225.04 L148.5 225 L149.1 225.17 L149.7 225.01 L150.3 225.02 L150.9 225.23 L151.5 225.08 L152.1 225.05 L152.7 225.1 L153.3 225.14 L153.9 225.21 L154.5 225.2 L155.1 225.23 L155.7 225.28 L156.3 225.12 L156.9 225.21 L157.5 225.06 L158.1 225.29 L158.7 225.03 L159.3 225.09 L159.9 225.02 L160.5 225.03 L161.1 225.03 L161.7 225.13 L162.3 225.3 L162.9 225.08 L163.5 225.25 L164.1 225.21 L164.7 225.1 L165.3 225.14 L165.9 225.18 L166.5 225.02 L167.1 225.12 L167.7 225.2 L168.3 225.22 L168.9 225.04 L169.5 225.16 L170.1 225.07 L170.7 225.19 L171.3 225.24 L171.9 225.14" fill="none" stroke="#3a3d40" stroke-width="0.7" stroke-linejoin="round"/>
<path d="M50 225.6V216.4 M53.9 225.6V152 M59.4 225.6V136.2 M66 225.6V214" fill="none" stroke="#3a3d40" stroke-width="0.85"/>
<path d="M53 225.3L53.75 218.3L54.1 217.3L54.9 225.3Z M58.5 225.3L59.25 218.3L59.6 217.3L60.4 225.3Z" fill="#3a3d40" opacity="0.75"/>
<path d="M52.8 225.3V217.5 M54.8 225.3V218 M58.5 225.3V214.5 M60.2 225.3V216 M61 225.3V219 M65.2 225.3V219" fill="none" stroke="#3a3d40" stroke-width="0.7" opacity="0.7"/>
<path d="M66.5 131 V225.75" stroke="#2e3032" stroke-width="0.75" stroke-dasharray="3.3 2.3"/>
<text x="42.19" y="212.6" font-size="7.3" fill="#4e5154">10<tspan font-size="4.8" dy="-3.1" dx="0.1">+</tspan></text>
<text x="50.67" y="150.3" font-size="7.3" fill="#4e5154">9<tspan font-size="4.8" dy="-3.1" dx="0.1">+</tspan></text>
<text x="56.67" y="133.3" font-size="7.3" fill="#4e5154">8<tspan font-size="4.8" dy="-3.1" dx="0.1">+</tspan></text>
<text x="68.02" y="211.9" font-size="7.3" fill="#4e5154">7<tspan font-size="4.8" dy="-3.1" dx="0.1">+</tspan></text>
<text x="67.1" y="127.8" font-size="7" fill="#4e5154">Z<tspan font-size="4.62" dy="1.8">R</tspan></text>
<path d="M213.8 224.75 H354.8" stroke="#3a3d40" stroke-width="0.9"/>
<path d="M213.8 224.75 v2.1" stroke="#3a3d40" stroke-width="0.6"/>
<text x="213.8" y="233.8" font-size="5.6" fill="#3c3c3c" text-anchor="middle">500</text>
<path d="M237.3 224.75 v2.1" stroke="#3a3d40" stroke-width="0.6"/>
<text x="237.3" y="233.8" font-size="5.6" fill="#3c3c3c" text-anchor="middle">1000</text>
<path d="M260.8 224.75 v2.1" stroke="#3a3d40" stroke-width="0.6"/>
<text x="260.8" y="233.8" font-size="5.6" fill="#3c3c3c" text-anchor="middle">1500</text>
<path d="M284.3 224.75 v2.1" stroke="#3a3d40" stroke-width="0.6"/>
<text x="284.3" y="233.8" font-size="5.6" fill="#3c3c3c" text-anchor="middle">2000</text>
<path d="M307.8 224.75 v2.1" stroke="#3a3d40" stroke-width="0.6"/>
<text x="307.8" y="233.8" font-size="5.6" fill="#3c3c3c" text-anchor="middle">2500</text>
<path d="M331.3 224.75 v2.1" stroke="#3a3d40" stroke-width="0.6"/>
<text x="331.3" y="233.8" font-size="5.6" fill="#3c3c3c" text-anchor="middle">3000</text>
<path d="M354.8 224.75 v2.1" stroke="#3a3d40" stroke-width="0.6"/>
<text x="354.8" y="233.8" font-size="5.6" fill="#3c3c3c" text-anchor="middle">3500</text>
<path d="M225.55 224.75v1.4 M249.05 224.75v1.4 M272.55 224.75v1.4 M296.05 224.75v1.4 M319.55 224.75v1.4 M343.05 224.75v1.4" stroke="#3a3d40" stroke-width="0.45"/>
<text x="279" y="241.1" font-size="7.6" fill="#2c2c2c" text-anchor="middle">m/z</text>
<path d="M213.8 224.3 L213.8 224.11 L214.4 224.08 L215 224.06 L215.6 224.02 L216.2 224.08 L216.8 224.02 L217.4 224.29 L218 224.16 L218.6 224.02 L219.2 224.11 L219.8 224.03 L220.4 224.27 L221 224.16 L221.6 224.23 L222.2 224.14 L222.8 224.13 L223.4 224.3 L224 224.23 L224.6 224.22 L225.2 224.03 L225.8 224.07 L226.4 224.25 L227 224.06 L227.6 224.26 L228.2 224.11 L228.8 224.26 L229.4 224.3 L230 224.04 L230.6 224.24 L231.2 224.24 L231.8 224.01 L232.4 224.04 L233 224.21 L233.6 224.01 L234.2 224.14 L234.8 224.1 L235.4 224.24 L236 224.02 L236.6 224.09 L237.2 224.01 L237.8 224.03 L238.4 224.21 L239 224.19 L239.6 224.25 L240.2 224.26 L240.8 224.28 L241.4 224.21 L242 224.12 L242.6 224.3 L243.2 224.1 L243.8 224.2 L244.4 224.21 L245 224.05 L245.6 224.16 L246.2 224.21 L246.8 224.16 L247.4 224.09 L248 224.28 L248.6 224.01 L249.2 224.29 L249.8 224.08 L250.4 224.05 L251 224.29 L251.6 224.06 L252.2 224.19 L252.8 224.13 L253.4 224.3 L254 224.29 L254.6 224.25 L255.2 224.01 L255.8 224.24 L256.4 224.07 L257 224.02 L257.6 224.02 L258.2 224.2 L258.8 224.19 L259.4 224.14 L260 224.07 L260.6 224.27 L261.2 224.08 L261.8 224.06 L262.4 224.04 L263 224.29 L263.6 224.02 L264.2 224.27 L264.8 224.2 L265.4 224.12 L266 224.02 L266.6 224.2 L267.2 224.02 L267.8 224.14 L268.4 224.21 L269 224.2 L269.6 224.25 L270.2 224.28 L270.8 224.26 L271.4 224.09 L272 224 L272.6 224.25 L273.2 224.29 L273.8 224 L274.4 224.14 L275 224.18 L275.6 224.23 L276.2 224.12 L276.8 224.05 L277.4 224.16 L278 224.17 L278.6 224.28 L279.2 224.03 L279.8 224.29 L280.4 224.15 L281 224.05 L281.6 224.26 L282.2 224.08 L282.8 224.02 L283.4 224.11 L284 224.06 L284.6 224.27 L285.2 224.17 L285.8 224.26 L286.4 224.05 L287 224.21 L287.6 224.16 L288.2 224 L288.8 224.04 L289.4 224.01 L290 224.16 L290.6 224.15 L291.2 224.08 L291.8 224.16 L292.4 224.21 L293 224.18 L293.6 224.26 L294.2 224.19 L294.8 224 L295.4 224.01 L296 224.11 L296.6 224.15 L297.2 224.2 L297.8 224.27 L298.4 224.22 L299 224.07 L299.6 224.04 L300.2 224.19 L300.8 224.06 L301.4 224.07 L302 224.09 L302.6 224.1 L303.2 224.07 L303.8 224.19 L304.4 224.09 L305 224.22 L305.6 224.15 L306.2 224.07 L306.8 224.09 L307.4 224.21 L308 224.02 L308.6 224.11 L309.2 224.13 L309.8 224.3 L310.4 224.14 L311 224.22 L311.6 224.1 L312.2 224.16 L312.8 224.05 L313.4 224.11 L314 224.06 L314.6 224.2 L315.2 224.11 L315.8 224.08 L316.4 224.05 L317 224.19 L317.6 224.05 L318.2 224.04 L318.8 224.09 L319.4 224.01 L320 224.01 L320.6 224.14 L321.2 224.14 L321.8 224.25 L322.4 224.05 L323 224.02 L323.6 224.16 L324.2 224.09 L324.8 224.08 L325.4 224.08 L326 224.25 L326.6 224.07 L327.2 224.13 L327.8 224.1 L328.4 224.17 L329 224.11 L329.6 224.07 L330.2 224.11 L330.8 224.08 L331.4 224.29" fill="none" stroke="#3a3d40" stroke-width="0.7" stroke-linejoin="round"/>
<path d="M223.2 224.6V216.5 M224.6 224.6V210 M226.3 224.6V203 M228 224.6V196.3 M230.2 224.6V141 M234.5 224.6V130.3 M240.4 224.6V141.5 M247.5 224.6V145.9 M257.2 224.6V196.2 M270.6 224.6V216 M291 224.6V220.3" fill="none" stroke="#3a3d40" stroke-width="0.85"/>
<path d="M227.1 224.3L227.85 221.5L228.2 221.22L229 224.3Z M229.3 224.3L230.05 217.3L230.4 216.3L231.2 224.3Z M233.6 224.3L234.35 217.3L234.7 216.3L235.5 224.3Z M239.5 224.3L240.25 217.3L240.6 216.3L241.4 224.3Z M246.6 224.3L247.35 217.3L247.7 216.3L248.5 224.3Z M256.3 224.3L257.05 221.49L257.4 221.21L258.2 224.3Z" fill="#3a3d40" opacity="0.75"/>
<path d="M221.5 224.3V220 M232.2 224.3V217 M233.6 224.3V215.5 M235.5 224.3V219 M242 224.3V220.5 M249 224.3V221 M279.9 224.3V222.4" fill="none" stroke="#3a3d40" stroke-width="0.7" opacity="0.7"/>
<path d="M250.4 120.5 V224.75" stroke="#2e3032" stroke-width="0.75" stroke-dasharray="3.3 2.3"/>
<text x="222.64" y="138.8" font-size="7.3" fill="#4e5154">10<tspan font-size="4.8" dy="-3.1" dx="0.1">+</tspan></text>
<text x="233.02" y="128.3" font-size="7.3" fill="#4e5154">9<tspan font-size="4.8" dy="-3.1" dx="0.1">+</tspan></text>
<text x="239.02" y="138.8" font-size="7.3" fill="#4e5154">8<tspan font-size="4.8" dy="-3.1" dx="0.1">+</tspan></text>
<text x="246.02" y="143.8" font-size="7.3" fill="#4e5154">7<tspan font-size="4.8" dy="-3.1" dx="0.1">+</tspan></text>
<text x="256.27" y="192" font-size="7.3" fill="#4e5154">6<tspan font-size="4.8" dy="-3.1" dx="0.1">+</tspan></text>
<text x="269.42" y="212.7" font-size="7.3" fill="#4e5154">5<tspan font-size="4.8" dy="-3.1" dx="0.1">+</tspan></text>
<text x="289.07" y="216.7" font-size="7.3" fill="#4e5154">4<tspan font-size="4.8" dy="-3.1" dx="0.1">+</tspan></text>
<text x="259.5" y="123.8" font-size="5.6" fill="#4e5154">Z<tspan font-size="3.7" dy="1.8">R</tspan></text>
<path d="M380.4 225.3 H519.3" stroke="#3a3d40" stroke-width="0.9"/>
<path d="M380.4 225.3 v2.1" stroke="#3a3d40" stroke-width="0.6"/>
<text x="380.4" y="233.7" font-size="5.6" fill="#3c3c3c" text-anchor="middle">500</text>
<path d="M403.55 225.3 v2.1" stroke="#3a3d40" stroke-width="0.6"/>
<text x="403.55" y="233.7" font-size="5.6" fill="#3c3c3c" text-anchor="middle">1000</text>
<path d="M426.7 225.3 v2.1" stroke="#3a3d40" stroke-width="0.6"/>
<text x="426.7" y="233.7" font-size="5.6" fill="#3c3c3c" text-anchor="middle">1500</text>
<path d="M449.85 225.3 v2.1" stroke="#3a3d40" stroke-width="0.6"/>
<text x="449.85" y="233.7" font-size="5.6" fill="#3c3c3c" text-anchor="middle">2000</text>
<path d="M473 225.3 v2.1" stroke="#3a3d40" stroke-width="0.6"/>
<text x="473" y="233.7" font-size="5.6" fill="#3c3c3c" text-anchor="middle">2500</text>
<path d="M496.15 225.3 v2.1" stroke="#3a3d40" stroke-width="0.6"/>
<text x="496.15" y="233.7" font-size="5.6" fill="#3c3c3c" text-anchor="middle">3000</text>
<path d="M519.3 225.3 v2.1" stroke="#3a3d40" stroke-width="0.6"/>
<text x="519.3" y="233.7" font-size="5.6" fill="#3c3c3c" text-anchor="middle">3500</text>
<path d="M391.97 225.3v1.4 M415.12 225.3v1.4 M438.27 225.3v1.4 M461.42 225.3v1.4 M484.57 225.3v1.4 M507.72 225.3v1.4" stroke="#3a3d40" stroke-width="0.45"/>
<text x="449" y="241.2" font-size="7.6" fill="#2c2c2c" text-anchor="middle">m/z</text>
<path d="M380.4 224.85 L380.4 224.68 L381 224.35 L381.6 224.72 L382.2 224.46 L382.8 224.74 L383.4 224.66 L384 224.32 L384.6 224.67 L385.2 224.47 L385.8 224.55 L386.4 224.55 L387 224.53 L387.6 224.66 L388.2 224.37 L388.8 224.7 L389.4 224.63 L390 224.72 L390.6 224.61 L391.2 224.54 L391.8 224.31 L392.4 224.54 L393 224.66 L393.6 224.59 L394.2 224.25 L394.8 224.67 L395.4 224.41 L396 224.51 L396.6 224.38 L397.2 224.52 L397.8 224.36 L398.4 224.44 L399 224.36 L399.6 224.24 L400.2 224.38 L400.8 224.57 L401.4 224.6 L402 224.2 L402.6 224.4 L403.2 224.53 L403.8 224.18 L404.4 224.34 L405 224.26 L405.6 224.19 L406.2 224.45 L406.8 224.41 L407.4 224.17 L408 224.5 L408.6 224.21 L409.2 224.5 L409.8 224.22 L410.4 224.21 L411 224.09 L411.6 224.13 L412.2 224.28 L412.8 224.41 L413.4 224.42 L414 224.24 L414.6 224.24 L415.2 224.43 L415.8 224.05 L416.4 224.22 L417 224.13 L417.6 224.33 L418.2 224.32 L418.8 224.41 L419.4 224.25 L420 224.28 L420.6 224.2 L421.2 224.22 L421.8 224 L422.4 223.97 L423 224.28 L423.6 224.18 L424.2 224.27 L424.8 224.04 L425.4 223.89 L426 224.23 L426.6 223.97 L427.2 224.17 L427.8 224.3 L428.4 223.95 L429 224.13 L429.6 224.2 L430.2 224.08 L430.8 224.16 L431.4 224.08 L432 224.05 L432.6 224.06 L433.2 223.98 L433.8 224.11 L434.4 224.19 L435 224.19 L435.6 224.17 L436.2 223.98 L436.8 224.05 L437.4 223.84 L438 223.97 L438.6 223.87 L439.2 223.75 L439.8 224.16 L440.4 224.17 L441 224.11 L441.6 224 L442.2 223.91 L442.8 223.83 L443.4 224.01 L444 223.73 L444.6 224.16 L445.2 223.78 L445.8 224.06 L446.4 223.76 L447 224.14 L447.6 223.72 L448.2 223.81 L448.8 223.7 L449.4 223.89 L450 224.07 L450.6 223.71 L451.2 223.95 L451.8 224.11 L452.4 223.88 L453 223.93 L453.6 223.94 L454.2 224.09 L454.8 224.1 L455.4 223.9 L456 223.96 L456.6 224.11 L457.2 223.97 L457.8 223.84 L458.4 223.85 L459 223.97 L459.6 224 L460.2 224.02 L460.8 224.09 L461.4 224.1 L462 224 L462.6 224.15 L463.2 223.88 L463.8 223.89 L464.4 223.94 L465 224.21 L465.6 224.07 L466.2 224.04 L466.8 224.2 L467.4 223.81 L468 223.91 L468.6 224.03 L469.2 223.95 L469.8 224.18 L470.4 224.18 L471 224.05 L471.6 223.96 L472.2 224.01 L472.8 224.31 L473.4 224.04 L474 223.91 L474.6 224 L475.2 223.92 L475.8 223.9 L476.4 224.25 L477 224.23 L477.6 224.12 L478.2 223.94 L478.8 224.22 L479.4 223.97 L480 224.02 L480.6 224.18 L481.2 224.14 L481.8 223.99 L482.4 224.08 L483 224.31 L483.6 224.07 L484.2 224.37 L484.8 224.3 L485.4 224.04 L486 224.1 L486.6 224.35 L487.2 224.37 L487.8 224.23 L488.4 224.13 L489 224.21 L489.6 224.11 L490.2 224.21 L490.8 224.17 L491.4 224.28 L492 224.39 L492.6 224.37 L493.2 224.35 L493.8 224.34 L494.4 224.21 L495 224.47 L495.6 224.57 L496.2 224.28 L496.8 224.49 L497.4 224.43 L498 224.57 L498.6 224.26 L499.2 224.51 L499.8 224.51 L500.4 224.29 L501 224.43 L501.6 224.54 L502.2 224.27 L502.8 224.49 L503.4 224.52 L504 224.25 L504.6 224.33 L505.2 224.36 L505.8 224.59 L506.4 224.34 L507 224.44 L507.6 224.34 L508.2 224.55 L508.8 224.37 L509.4 224.37 L510 224.56 L510.6 224.44 L511.2 224.39 L511.8 224.3 L512.4 224.33 L513 224.4 L513.6 224.69 L514.2 224.48 L514.8 224.45 L515.4 224.73 L516 224.56 L516.6 224.38 L517.2 224.37 L517.8 224.36 L518.4 224.74 L519 224.51" fill="none" stroke="#3a3d40" stroke-width="0.7" stroke-linejoin="round"/>
<path d="M410.8 224.82V220 M413.9 224.78V218.3 M416.6 224.75V217 M419.8 224.7V216.2 M423.2 224.66V215.5 M427 224.61V214.8 M431.5 224.56V213.6 M437 224.51V207.8 M443.3 224.47V176.5 M450.2 224.45V134 M458.5 224.47V149.6 M468.8 224.56V197 M481.3 224.72V185.2 M496.5 224.91V215.3" fill="none" stroke="#3a3d40" stroke-width="0.85"/>
<path d="M410 224.68L412.4 224.17L413.38 223.86L413.9 222.32L414.42 223.86L415.4 224.17L417.8 224.68Z M412.7 224.65L415.1 224.07L416.08 223.7L416.6 221.84L417.12 223.7L418.1 224.07L420.5 224.65Z M415.9 224.6L418.3 223.99L419.28 223.58L419.8 221.53L420.32 223.58L421.3 223.99L423.7 224.6Z M419.3 224.56L421.7 223.92L422.68 223.47L423.2 221.26L423.72 223.47L424.7 223.92L427.1 224.56Z M423.1 224.51L425.5 223.84L426.48 223.36L427 220.98L427.52 223.36L428.5 223.84L430.9 224.51Z M427.6 224.46L430 223.73L430.98 223.19L431.5 220.53L432.02 223.19L433 223.73L435.4 224.46Z M433.1 224.41L435.5 223.39L436.48 222.57L437 218.46L437.52 222.57L438.5 223.39L440.9 224.41Z M439.4 224.37L441.8 221.78L442.78 219.4L443.3 207.48L443.82 219.4L444.8 221.78L447.2 224.37Z M446.3 224.35L448.7 221.75L449.68 218.15L450.2 202.15L450.72 218.15L451.7 221.75L454.1 224.35Z M454.6 224.37L457 221.77L457.98 218.17L458.5 202.17L459.02 218.17L460 221.77L462.4 224.37Z M464.9 224.46L467.3 222.9L468.28 221.54L468.8 214.72L469.32 221.54L470.3 222.9L472.7 224.46Z M477.4 224.62L479.8 222.46L480.78 220.5L481.3 210.69L481.82 220.5L482.8 222.46L485.2 224.62Z M492.6 224.81L495 224.14L495.98 223.68L496.5 221.35L497.02 223.68L498 224.14L500.4 224.81Z" fill="#3a3d40" opacity="0.75"/>
<path d="M452.7 121.5 V225.3" stroke="#2e3032" stroke-width="0.75" stroke-dasharray="3.3 2.3"/>
<text x="391.84" y="208.5" font-size="7.3" fill="#4e5154">21<tspan font-size="4.8" dy="-3.1" dx="0.1">+</tspan></text>
<text x="436.64" y="172.6" font-size="7.3" fill="#4e5154">13<tspan font-size="4.8" dy="-3.1" dx="0.1">+</tspan></text>
<text x="439.34" y="137" font-size="7.3" fill="#4e5154">12<tspan font-size="4.8" dy="-3.1" dx="0.1">+</tspan></text>
<text x="456.24" y="147.5" font-size="7.3" fill="#4e5154">11<tspan font-size="4.8" dy="-3.1" dx="0.1">+</tspan></text>
<text x="464.14" y="192.6" font-size="7.3" fill="#4e5154">10<tspan font-size="4.8" dy="-3.1" dx="0.1">+</tspan></text>
<text x="480.57" y="180.6" font-size="7.3" fill="#4e5154">9<tspan font-size="4.8" dy="-3.1" dx="0.1">+</tspan></text>
<text x="454.5" y="124.3" font-size="5.6" fill="#4e5154">Z<tspan font-size="3.7" dy="1.8">R</tspan></text>
<path d="M402.3 210.2 L409.8 218.8" stroke="#4e5154" stroke-width="0.4"/>
<path d="M535.7 225.9 H677" stroke="#3a3d40" stroke-width="0.9"/>
<path d="M535.7 225.9 v2.1" stroke="#3a3d40" stroke-width="0.6"/>
<text x="535.7" y="232.7" font-size="4.6" fill="#3c3c3c" text-anchor="middle">500</text>
<path d="M559.25 225.9 v2.1" stroke="#3a3d40" stroke-width="0.6"/>
<text x="559.25" y="232.7" font-size="4.6" fill="#3c3c3c" text-anchor="middle">1000</text>
<path d="M582.8 225.9 v2.1" stroke="#3a3d40" stroke-width="0.6"/>
<text x="582.8" y="232.7" font-size="4.6" fill="#3c3c3c" text-anchor="middle">1500</text>
<path d="M606.35 225.9 v2.1" stroke="#3a3d40" stroke-width="0.6"/>
<text x="606.35" y="232.7" font-size="4.6" fill="#3c3c3c" text-anchor="middle">2000</text>
<path d="M629.9 225.9 v2.1" stroke="#3a3d40" stroke-width="0.6"/>
<text x="629.9" y="232.7" font-size="4.6" fill="#3c3c3c" text-anchor="middle">2500</text>
<path d="M653.45 225.9 v2.1" stroke="#3a3d40" stroke-width="0.6"/>
<text x="653.45" y="232.7" font-size="4.6" fill="#3c3c3c" text-anchor="middle">3000</text>
<path d="M677 225.9 v2.1" stroke="#3a3d40" stroke-width="0.6"/>
<text x="677" y="232.7" font-size="4.6" fill="#3c3c3c" text-anchor="middle">3500</text>
<path d="M547.48 225.9v1.4 M571.02 225.9v1.4 M594.58 225.9v1.4 M618.12 225.9v1.4 M641.68 225.9v1.4 M665.23 225.9v1.4" stroke="#3a3d40" stroke-width="0.45"/>
<text x="606.8" y="241.8" font-size="7.6" fill="#2c2c2c" text-anchor="middle">m/z</text>
<path d="M535.7 225.45 L535.7 223.68 L536.3 223.57 L536.9 223.27 L537.5 223.55 L538.1 223.48 L538.7 223.38 L539.3 223.62 L539.9 223.35 L540.5 223.23 L541.1 223.07 L541.7 223.52 L542.3 223.33 L542.9 223.44 L543.5 222.9 L544.1 222.94 L544.7 223.35 L545.3 222.65 L545.9 222.62 L546.5 222.8 L547.1 222.79 L547.7 223.07 L548.3 223.12 L548.9 222.72 L549.5 223.01 L550.1 222.88 L550.7 222.8 L551.3 222.91 L551.9 222.56 L552.5 222.54 L553.1 222.22 L553.7 222.4 L554.3 222.27 L554.9 222.33 L555.5 222.18 L556.1 222.28 L556.7 222.36 L557.3 221.82 L557.9 221.78 L558.5 221.85 L559.1 221.9 L559.7 222.16 L560.3 222.21 L560.9 222.16 L561.5 222.3 L562.1 221.8 L562.7 222.04 L563.3 221.71 L563.9 222.02 L564.5 221.61 L565.1 221.67 L565.7 222.25 L566.3 222.09 L566.9 221.59 L567.5 221.89 L568.1 221.52 L568.7 221.91 L569.3 222.12 L569.9 221.72 L570.5 221.61 L571.1 221.95 L571.7 222.06 L572.3 221.88 L572.9 221.42 L573.5 221.55 L574.1 221.99 L574.7 221.89 L575.3 221.97 L575.9 221.99 L576.5 221.46 L577.1 221.88 L577.7 221.6 L578.3 221.67 L578.9 221.83 L579.5 221.44 L580.1 221.85 L580.7 221.48 L581.3 221.83 L581.9 221.61 L582.5 221.74 L583.1 221.7 L583.7 221.2 L584.3 221.31 L584.9 221.65 L585.5 221.24 L586.1 221.7 L586.7 221.57 L587.3 221.24 L587.9 221.38 L588.5 221.75 L589.1 221.12 L589.7 221.65 L590.3 221.62 L590.9 221.25 L591.5 221.55 L592.1 221.57 L592.7 221.71 L593.3 221.7 L593.9 221.34 L594.5 221.57 L595.1 221.32 L595.7 221.47 L596.3 221.4 L596.9 221.04 L597.5 221.37 L598.1 221.3 L598.7 221.08 L599.3 221.56 L599.9 221.57 L600.5 221.03 L601.1 221.09 L601.7 221.48 L602.3 221.51 L602.9 221.12 L603.5 220.97 L604.1 221.49 L604.7 220.95 L605.3 220.99 L605.9 221.18 L606.5 221.32 L607.1 221.55 L607.7 221.61 L608.3 220.97 L608.9 221.49 L609.5 221.18 L610.1 221.51 L610.7 221.12 L611.3 221.29 L611.9 221.52 L612.5 221.61 L613.1 221.24 L613.7 221.71 L614.3 221.61 L614.9 221.39 L615.5 221.2 L616.1 221.38 L616.7 221.63 L617.3 221.19 L617.9 221.71 L618.5 221.85 L619.1 221.68 L619.7 221.57 L620.3 221.86 L620.9 221.79 L621.5 221.66 L622.1 221.53 L622.7 221.86 L623.3 221.71 L623.9 221.35 L624.5 221.3 L625.1 221.54 L625.7 221.53 L626.3 221.61 L626.9 221.94 L627.5 222.02 L628.1 222.05 L628.7 221.44 L629.3 221.59 L629.9 221.42 L630.5 222.12 L631.1 221.73 L631.7 221.89 L632.3 221.76 L632.9 222.09 L633.5 221.65 L634.1 222.34 L634.7 222.06 L635.3 221.97 L635.9 221.9 L636.5 222.05 L637.1 222.12 L637.7 222.1 L638.3 222.06 L638.9 222.5 L639.5 222.31 L640.1 222.2 L640.7 222.26 L641.3 222.63 L641.9 222.41 L642.5 222.4 L643.1 222.65 L643.7 222.65 L644.3 222.87 L644.9 222.77 L645.5 222.8 L646.1 223.21 L646.7 222.86 L647.3 222.66 L647.9 222.78 L648.5 222.93 L649.1 223.21 L649.7 223.01 L650.3 223.16 L650.9 223.3 L651.5 223.07 L652.1 223.64 L652.7 223.22 L653.3 223.76 L653.9 223.41 L654.5 223.54 L655.1 223.75 L655.7 223.47 L656.3 223.65 L656.9 223.62 L657.5 223.45 L658.1 223.95 L658.7 224.17 L659.3 224.01 L659.9 223.79 L660.5 224.16 L661.1 224.23 L661.7 223.76 L662.3 223.97 L662.9 224.17 L663.5 223.9 L664.1 224.34 L664.7 224.14 L665.3 224.51 L665.9 224.4 L666.5 224.18 L667.1 224.14 L667.7 224.21 L668.3 224.6 L668.9 224.51 L669.5 224.74 L670.1 224.91 L670.7 224.7 L671.3 224.5 L671.9 224.54 L672.5 224.68 L673.1 224.55 L673.7 225.07 L674.3 225.19 L674.9 225.03 L675.5 225.2 L676.1 225.29 L676.7 225.19" fill="none" stroke="#3a3d40" stroke-width="0.7" stroke-linejoin="round"/>
<path d="M560.9 222.66V214.2 M564.7 222.58V204.4 M569.3 222.48V196.5 M574.4 222.37V179.8 M580.7 222.23V145.2 M588.3 222.12V129.2 M597.5 222.01V182 M609.7 221.98V206.3 M625.8 222.31V217.3" fill="none" stroke="#3a3d40" stroke-width="0.85"/>
<path d="M558.82 222.56L560.1 221.95L560.62 221.54L560.9 219.5L561.18 221.54L561.7 221.95L562.98 222.56Z M562.62 222.48L563.9 221.38L564.42 220.49L564.7 216.02L564.98 220.49L565.5 221.38L566.78 222.48Z M567.22 222.38L568.5 220.89L569.02 219.61L569.3 213.19L569.58 219.61L570.1 220.89L571.38 222.38Z M572.32 222.27L573.6 219.95L574.12 217.84L574.4 207.27L574.68 217.84L575.2 219.95L576.48 222.27Z M578.62 222.13L579.9 219.53L580.42 215.93L580.7 199.93L580.98 215.93L581.5 219.53L582.78 222.13Z M586.22 222.02L587.5 219.42L588.02 215.82L588.3 199.82L588.58 215.82L589.1 219.42L590.38 222.02Z M595.42 221.91L596.7 219.72L597.22 217.74L597.5 207.81L597.78 217.74L598.3 219.72L599.58 221.91Z M607.62 221.88L608.9 220.91L609.42 220.14L609.7 216.3L609.98 220.14L610.5 220.91L611.78 221.88Z" fill="#3a3d40" opacity="0.75"/>
<path d="M537 223.91V221.6 M541.4 223.61V221.3 M546.6 223.25V220.6 M552.2 222.87V220.4 M557.7 222.49V219.6" fill="none" stroke="#3a3d40" stroke-width="0.7" opacity="0.7"/>
<path d="M593.1 126.6 V225.9" stroke="#5a5c5e" stroke-width="1.5" stroke-dasharray="4.3 5"/>
<text x="557.34" y="203.3" font-size="7.3" fill="#4e5154">13<tspan font-size="4.8" dy="-3.1" dx="0.1">+</tspan></text>
<text x="562.99" y="194.4" font-size="7.3" fill="#4e5154">12<tspan font-size="4.8" dy="-3.1" dx="0.1">+</tspan></text>
<text x="569.54" y="177.8" font-size="7.3" fill="#4e5154">11<tspan font-size="4.8" dy="-3.1" dx="0.1">+</tspan></text>
<text x="575.54" y="143" font-size="7.3" fill="#4e5154">10<tspan font-size="4.8" dy="-3.1" dx="0.1">+</tspan></text>
<text x="585.87" y="126.6" font-size="7.3" fill="#4e5154">9<tspan font-size="4.8" dy="-3.1" dx="0.1">+</tspan></text>
<text x="596.57" y="179.3" font-size="7.3" fill="#4e5154">8<tspan font-size="4.8" dy="-3.1" dx="0.1">+</tspan></text>
<text x="607.47" y="202.4" font-size="7.3" fill="#4e5154">7<tspan font-size="4.8" dy="-3.1" dx="0.1">+</tspan></text>
<text x="624.07" y="214.2" font-size="7.3" fill="#4e5154">6<tspan font-size="4.8" dy="-3.1" dx="0.1">+</tspan></text>
<text x="592.2" y="124.9" font-size="5.6" fill="#4e5154">Z<tspan font-size="3.7" dy="1.8">R</tspan></text>
<rect x="16.4" y="260.5" width="165.4" height="100.9" fill="none" stroke="#55552a" stroke-width="0.75"/>
<path d="M98.7 260.5 V361.4" stroke="#55552a" stroke-width="0.75"/>
<path d="M16.4 280.6 H181.8" stroke="#55552a" stroke-width="0.75"/>
<path d="M16.4 300.7 H181.8" stroke="#55552a" stroke-width="0.75"/>
<path d="M16.4 321 H181.8" stroke="#55552a" stroke-width="0.75"/>
<path d="M16.4 341.3 H181.8" stroke="#55552a" stroke-width="0.75"/>
<text x="21.8" y="270.4" font-size="9.3" fill="#424234" textLength="31.2" lengthAdjust="spacingAndGlyphs">Analyte</text>
<text x="102.1" y="270.4" font-size="9.3" fill="#424234" textLength="66.2" lengthAdjust="spacingAndGlyphs">Measured Mass</text>
<text x="19.6" y="290.5" font-size="9.3" fill="#424234" textLength="58.6" lengthAdjust="spacingAndGlyphs">G5-Dendrimer</text>
<text x="102.1" y="290.5" font-size="9.3" fill="#424234" textLength="20.6" lengthAdjust="spacingAndGlyphs">8020</text>
<text x="19.6" y="310.6" font-size="9.3" fill="#424234" textLength="38.4" lengthAdjust="spacingAndGlyphs">Ubiquitin</text>
<text x="102.1" y="310.6" font-size="9.3" fill="#424234" textLength="20.6" lengthAdjust="spacingAndGlyphs">8580</text>
<text x="19.6" y="330.9" font-size="9.3" fill="#424234" textLength="33.6" lengthAdjust="spacingAndGlyphs">β-casein</text>
<text x="102.1" y="330.9" font-size="9.3" fill="#424234" textLength="25.8" lengthAdjust="spacingAndGlyphs">23980</text>
<text x="19.6" y="351.2" font-size="9.3" fill="#424234" textLength="47.6" lengthAdjust="spacingAndGlyphs">α-Synuclein</text>
<text x="102.1" y="351.2" font-size="9.3" fill="#424234" textLength="25.8" lengthAdjust="spacingAndGlyphs">14460</text>
<path d="M220.5 246.5 V356.3 H356.6" fill="none" stroke="#555" stroke-width="0.6"/>
<path d="M220.5 246.5 h-1.6" stroke="#555" stroke-width="0.5"/>
<text x="217.3" y="248.2" font-size="4.8" fill="#222" text-anchor="end">1.0</text>
<path d="M220.5 257.48 h-1" stroke="#555" stroke-width="0.4"/>
<path d="M220.5 268.46 h-1.6" stroke="#555" stroke-width="0.5"/>
<text x="217.3" y="270.16" font-size="4.8" fill="#222" text-anchor="end">0.8</text>
<path d="M220.5 279.44 h-1" stroke="#555" stroke-width="0.4"/>
<path d="M220.5 290.42 h-1.6" stroke="#555" stroke-width="0.5"/>
<text x="217.3" y="292.12" font-size="4.8" fill="#222" text-anchor="end">0.6</text>
<path d="M220.5 301.4 h-1" stroke="#555" stroke-width="0.4"/>
<path d="M220.5 312.38 h-1.6" stroke="#555" stroke-width="0.5"/>
<text x="217.3" y="314.08" font-size="4.8" fill="#222" text-anchor="end">0.4</text>
<path d="M220.5 323.36 h-1" stroke="#555" stroke-width="0.4"/>
<path d="M220.5 334.34 h-1.6" stroke="#555" stroke-width="0.5"/>
<text x="217.3" y="336.04" font-size="4.8" fill="#222" text-anchor="end">0.2</text>
<path d="M220.5 345.32 h-1" stroke="#555" stroke-width="0.4"/>
<path d="M220.5 356.3 h-1.6" stroke="#555" stroke-width="0.5"/>
<text x="217.3" y="358" font-size="4.8" fill="#222" text-anchor="end">0.0</text>
<path d="M220.5 356.3 v1.6" stroke="#555" stroke-width="0.5"/>
<text x="220.5" y="363.3" font-size="4.8" fill="#222" text-anchor="middle">0</text>
<path d="M254.45 356.3 v1.6" stroke="#555" stroke-width="0.5"/>
<text x="254.45" y="363.3" font-size="4.8" fill="#222" text-anchor="middle">20</text>
<path d="M288.4 356.3 v1.6" stroke="#555" stroke-width="0.5"/>
<text x="288.4" y="363.3" font-size="4.8" fill="#222" text-anchor="middle">40</text>
<path d="M322.35 356.3 v1.6" stroke="#555" stroke-width="0.5"/>
<text x="322.35" y="363.3" font-size="4.8" fill="#222" text-anchor="middle">60</text>
<path d="M356.3 356.3 v1.6" stroke="#555" stroke-width="0.5"/>
<text x="356.3" y="363.3" font-size="4.8" fill="#222" text-anchor="middle">80</text>
<path d="M237.47 356.3 v1" stroke="#555" stroke-width="0.4"/>
<path d="M271.43 356.3 v1" stroke="#555" stroke-width="0.4"/>
<path d="M305.38 356.3 v1" stroke="#555" stroke-width="0.4"/>
<path d="M339.32 356.3 v1" stroke="#555" stroke-width="0.4"/>
<text x="277.4" y="369.3" font-size="5.7" fill="#222" text-anchor="middle">Amino acid position</text>
<text transform="translate(206.9 299.8) rotate(-90)" font-size="5.4" fill="#222" text-anchor="middle">Precision Score</text>
<path d="M222.2 348.74 L223.05 350.91 L224.74 353.63 L227.29 354.93 L230.69 355.37 L237.47 355.47 L240.87 355.37 L242.57 354.93 L254.45 354.82 L271.43 354.93 L288.4 354.82 L290.95 354.28 L293.49 353.52 L296.89 353.52 L299.43 354.5 L301.98 354.93 L322.35 354.93 L335.93 354.93 L339.32 354.5 L341.02 353.09 L342.72 349.83 L344.42 343.85" fill="none" stroke="#2222fa" stroke-width="0.95" stroke-linejoin="round" stroke-linecap="round"/>
<path d="M382 246.5 V356.3 H519.4" fill="none" stroke="#555" stroke-width="0.6"/>
<path d="M382 246.5 h-1.6" stroke="#555" stroke-width="0.5"/>
<text x="378.8" y="248.2" font-size="4.8" fill="#222" text-anchor="end">1.0</text>
<path d="M382 257.48 h-1" stroke="#555" stroke-width="0.4"/>
<path d="M382 268.46 h-1.6" stroke="#555" stroke-width="0.5"/>
<text x="378.8" y="270.16" font-size="4.8" fill="#222" text-anchor="end">0.8</text>
<path d="M382 279.44 h-1" stroke="#555" stroke-width="0.4"/>
<path d="M382 290.42 h-1.6" stroke="#555" stroke-width="0.5"/>
<text x="378.8" y="292.12" font-size="4.8" fill="#222" text-anchor="end">0.6</text>
<path d="M382 301.4 h-1" stroke="#555" stroke-width="0.4"/>
<path d="M382 312.38 h-1.6" stroke="#555" stroke-width="0.5"/>
<text x="378.8" y="314.08" font-size="4.8" fill="#222" text-anchor="end">0.4</text>
<path d="M382 323.36 h-1" stroke="#555" stroke-width="0.4"/>
<path d="M382 334.34 h-1.6" stroke="#555" stroke-width="0.5"/>
<text x="378.8" y="336.04" font-size="4.8" fill="#222" text-anchor="end">0.2</text>
<path d="M382 345.32 h-1" stroke="#555" stroke-width="0.4"/>
<path d="M382 356.3 h-1.6" stroke="#555" stroke-width="0.5"/>
<text x="378.8" y="358" font-size="4.8" fill="#222" text-anchor="end">0.0</text>
<path d="M382 356.3 v1.6" stroke="#555" stroke-width="0.5"/>
<text x="382" y="363.3" font-size="4.8" fill="#222" text-anchor="middle">0</text>
<path d="M412.2 356.3 v1.6" stroke="#555" stroke-width="0.5"/>
<text x="412.2" y="363.3" font-size="4.8" fill="#222" text-anchor="middle">50</text>
<path d="M442.4 356.3 v1.6" stroke="#555" stroke-width="0.5"/>
<text x="442.4" y="363.3" font-size="4.8" fill="#222" text-anchor="middle">100</text>
<path d="M472.6 356.3 v1.6" stroke="#555" stroke-width="0.5"/>
<text x="472.6" y="363.3" font-size="4.8" fill="#222" text-anchor="middle">150</text>
<path d="M502.8 356.3 v1.6" stroke="#555" stroke-width="0.5"/>
<text x="502.8" y="363.3" font-size="4.8" fill="#222" text-anchor="middle">200</text>
<path d="M397.1 356.3 v1" stroke="#555" stroke-width="0.4"/>
<path d="M427.3 356.3 v1" stroke="#555" stroke-width="0.4"/>
<path d="M457.5 356.3 v1" stroke="#555" stroke-width="0.4"/>
<path d="M487.7 356.3 v1" stroke="#555" stroke-width="0.4"/>
<path d="M517.9 356.3 v1" stroke="#555" stroke-width="0.4"/>
<text x="454.4" y="369.3" font-size="5.7" fill="#222" text-anchor="middle">Amino acid position</text>
<text transform="translate(368.4 299.8) rotate(-90)" font-size="5.4" fill="#222" text-anchor="middle">Precision Score</text>
<path d="M382.19 255.57 L382.66 253.18 L383.78 253.98 L384.58 251.26 L386.5 249.98 L388.09 252.38 L389.69 255.57 L390.97 258.77 L391.77 261.96 L392.88 260.36 L394.16 261.96 L395.44 265.95 L396.56 264.36 L397.67 260.36 L398.95 261.16 L400.23 258.77 L401.03 261.96 L402.15 266.75 L403.26 271.54 L404.54 270.42 L405.66 274.73 L406.62 276.33 L407.42 281.12 L408.21 280.32 L409.01 285.91 L409.65 294.38 L410.93 292.3 L412.05 289.11 L413 285.91 L413.8 287.51 L414.92 280.32 L416.2 273.14 L417 267.55 L417.79 273.14 L418.43 274.73 L419.39 269.94 L420.51 266.75 L421.63 265.15 L422.58 264.36 L423.7 265.95 L424.82 269.94 L425.62 270.74 L426.42 276.33 L427.38 283.52 L428.25 288.39 L429.37 295.57 L430.97 301.16 L431.77 309.15 L432.88 317.93 L433.84 323.52 L434.48 329.9 L434.96 334.69 L435.76 330.7 L436.88 333.1 L437.83 331.5 L438.95 332.78 L439.75 329.9 L440.55 335.49 L441.67 340.28 L442.47 342.36 L443.26 336.29 L443.74 326.71 L444.22 319.52 L445.66 315.53 L446.94 309.94 L447.73 306.75 L448.53 307.55 L449.81 303.56 L450.93 299.56 L451.73 295.57 L452.84 297.97 L453.8 295.57 L454.92 293.18 L455.72 289.98 L456.52 285.99 L457.32 285.19 L457.79 288.39 L458.59 283.6 L458.57 281.54 L460.17 281.54 L460.97 285.53 L461.77 286.33 L462.56 293.52 L463.36 303.1 L463.84 309.49 L464.64 298.31 L465.44 303.1 L466.24 300.7 L467.04 299.11 L467.83 304.69 L468.95 307.89 L469.77 314.73 L470.57 323.52 L471.21 327.51 L471.85 318.73 L472.49 305.95 L472.96 294.77 L473.6 302.76 L474.4 301.96 L475.36 297.97 L476.48 300.36 L477.28 296.37 L478.23 302.76 L478.87 297.17 L479.67 293.18 L480.79 292.38 L481.75 288.39 L482.86 289.19 L483.66 285.19 L484.12 280.74 L485.24 282.34 L486.2 275.95 L486.84 271.96 L487.79 267.17 L488.43 265.09 L489.07 268.77 L489.71 271.16 L490.51 268.77 L491.31 271.16 L492.43 271.96 L493.7 271.16 L494.5 272.76 L495.46 265.09 L496.1 270.36 L496.9 274.36 L497.69 278.35 L498.49 280.74 L499.29 275.15 L500.09 274.36 L500.57 280.74 L501.69 281.54 L502.49 284.73 L503.28 286.33 L504.4 285.53 L505.36 289.52 L506.16 294.32 L506.96 299.11 L507.75 299.9 L508.55 296.71 L509.35 294.32 L510.15 295.91 L510.95 291.92 L511.75 287.93 L512.54 283.14 L513.34 278.35 L513.82 285.53 L514.3 295.11 L514.78 303.9 L515.58 303.1 L516.38 299.9 L517.18 298.31 L517.81 293.52" fill="none" stroke="#2222fa" stroke-width="0.95" stroke-linejoin="round" stroke-linecap="round"/>
<path d="M542.2 246.5 V356.3 H678" fill="none" stroke="#555" stroke-width="0.6"/>
<path d="M542.2 246.5 h-1.6" stroke="#555" stroke-width="0.5"/>
<text x="539" y="248.2" font-size="4.8" fill="#222" text-anchor="end">1.0</text>
<path d="M542.2 257.48 h-1" stroke="#555" stroke-width="0.4"/>
<path d="M542.2 268.46 h-1.6" stroke="#555" stroke-width="0.5"/>
<text x="539" y="270.16" font-size="4.8" fill="#222" text-anchor="end">0.8</text>
<path d="M542.2 279.44 h-1" stroke="#555" stroke-width="0.4"/>
<path d="M542.2 290.42 h-1.6" stroke="#555" stroke-width="0.5"/>
<text x="539" y="292.12" font-size="4.8" fill="#222" text-anchor="end">0.6</text>
<path d="M542.2 301.4 h-1" stroke="#555" stroke-width="0.4"/>
<path d="M542.2 312.38 h-1.6" stroke="#555" stroke-width="0.5"/>
<text x="539" y="314.08" font-size="4.8" fill="#222" text-anchor="end">0.4</text>
<path d="M542.2 323.36 h-1" stroke="#555" stroke-width="0.4"/>
<path d="M542.2 334.34 h-1.6" stroke="#555" stroke-width="0.5"/>
<text x="539" y="336.04" font-size="4.8" fill="#222" text-anchor="end">0.2</text>
<path d="M542.2 345.32 h-1" stroke="#555" stroke-width="0.4"/>
<path d="M542.2 356.3 h-1.6" stroke="#555" stroke-width="0.5"/>
<text x="539" y="358" font-size="4.8" fill="#222" text-anchor="end">0.0</text>
<path d="M542.2 356.3 v1.6" stroke="#555" stroke-width="0.5"/>
<text x="542.2" y="363.3" font-size="4.8" fill="#222" text-anchor="middle">0</text>
<path d="M587.44 356.3 v1.6" stroke="#555" stroke-width="0.5"/>
<text x="587.44" y="363.3" font-size="4.8" fill="#222" text-anchor="middle">50</text>
<path d="M632.67 356.3 v1.6" stroke="#555" stroke-width="0.5"/>
<text x="632.67" y="363.3" font-size="4.8" fill="#222" text-anchor="middle">100</text>
<path d="M677.9 356.3 v1.6" stroke="#555" stroke-width="0.5"/>
<text x="677.9" y="363.3" font-size="4.8" fill="#222" text-anchor="middle">150</text>
<path d="M564.82 356.3 v1" stroke="#555" stroke-width="0.4"/>
<path d="M610.05 356.3 v1" stroke="#555" stroke-width="0.4"/>
<path d="M655.29 356.3 v1" stroke="#555" stroke-width="0.4"/>
<text x="613" y="369.3" font-size="5.7" fill="#222" text-anchor="middle">Amino acid position</text>
<text transform="translate(528.6 299.8) rotate(-90)" font-size="5.4" fill="#222" text-anchor="middle">Precision Score</text>
<path d="M542.47 273.94 L543.11 281.92 L543.91 291.5 L544.71 281.92 L545.98 272.34 L547.26 265.95 L548.38 261.16 L549.18 257.97 L549.98 267.55 L551.09 263.56 L552.37 260.36 L553.65 261.96 L554.77 263.56 L556.36 265.63 L557.48 259.56 L558.44 257.97 L559.24 256.85 L560.04 259.56 L561.15 258.77 L561.95 262.76 L562.75 269.94 L563.55 262.76 L564.35 259.25 L565.47 261.96 L566.42 265.95 L567.54 269.94 L568.66 271.54 L569.94 272.34 L571.21 277.13 L572.33 281.12 L573.45 285.11 L574.25 291.5 L574.73 297.89 L575.17 309.16 L575.97 320.34 L576.77 329.92 L577.56 336.31 L578.36 340.3 L579.16 333.11 L580.44 333.91 L581.56 338.7 L582.83 337.9 L583.95 333.11 L585.55 326.73 L586.83 325.93 L587.94 321.94 L589.06 320.34 L590.02 313.95 L591.14 302.77 L591.94 293.19 L592.29 284.79 L593.09 291.5 L594.21 297.09 L595.17 293.1 L596.28 286.71 L597.08 293.1 L598.2 299.49 L598.8 304.37 L599.92 310.76 L601.2 313.95 L602.32 320.34 L603.43 327.52 L604.71 327.52 L605.99 332.32 L606.79 333.91 L607.58 331.52 L608.7 334.71 L609.98 337.43 L611.1 335.51 L612.38 331.52 L613.49 326.73 L614.77 322.73 L615.89 319.54 L616.69 309.16 L617.49 298.78 L618.76 297.19 L619.88 297.19 L620.68 301.98 L621.96 306.77 L622.75 309.16 L623.55 307.56 L624.67 300.38 L625.47 297.19 L626.27 301.18 L627.39 306.77 L628.34 309.96 L629.46 305.97 L630.58 300.38 L631.54 301.98 L632.65 305.17 L633.77 301.18 L635.05 297.19 L636.33 293.99 L636.94 290.3 L637.73 286.31 L638.53 284.71 L639.33 285.51 L640.13 279.12 L640.93 280.72 L641.73 274.33 L642.52 278.32 L643.32 275.93 L644.12 271.14 L644.92 265.55 L645.72 259.96 L646.52 256.77 L647.79 254.37 L648.91 253.57 L650.19 251.18 L651.31 249.26 L652.9 249.1 L662.49 249.1 L663.6 250.38 L664.56 251.98 L665.36 253.57 L666.48 252.77 L667.59 252.14 L668.55 252.14" fill="none" stroke="#2222fa" stroke-width="0.95" stroke-linejoin="round" stroke-linecap="round"/>
</svg>
</body></html>
